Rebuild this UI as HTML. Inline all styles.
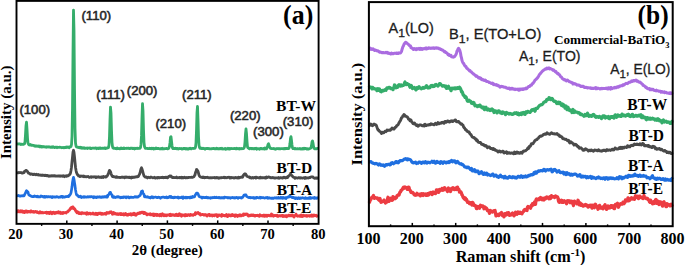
<!DOCTYPE html>
<html><head><meta charset="utf-8"><style>
html,body{margin:0;padding:0;background:#fff;width:685px;height:265px;overflow:hidden;}
svg{display:block;}

</style></head><body><svg width="685" height="265" viewBox="0 0 685 265"><path d="M17.5,211.82 L18.0,210.64 L18.5,211.17 L19.0,211.18 L19.5,211.76 L20.0,210.95 L20.5,211.65 L21.0,210.89 L21.5,211.76 L22.0,210.95 L22.5,211.16 L23.0,212.21 L23.5,211.53 L24.0,211.47 L24.5,212.46 L25.0,211.64 L25.5,211.15 L26.0,211.87 L26.5,211.04 L27.0,212.11 L27.5,212.18 L28.0,211.41 L28.5,211.41 L29.0,211.80 L29.5,211.76 L30.0,211.34 L30.5,212.06 L31.0,210.91 L31.5,211.67 L32.0,211.71 L32.5,211.79 L33.0,212.08 L33.5,211.41 L34.0,212.26 L34.5,211.94 L35.0,211.75 L35.5,211.45 L36.0,211.56 L36.5,212.28 L37.0,211.70 L37.5,212.19 L38.0,212.66 L38.5,212.67 L39.0,212.93 L39.5,212.11 L40.0,211.78 L40.5,212.75 L41.0,212.45 L41.5,212.84 L42.0,212.35 L42.5,212.91 L43.0,212.77 L43.5,212.73 L44.0,212.65 L44.5,212.62 L45.0,212.57 L45.5,212.58 L46.0,212.94 L46.5,212.28 L47.0,213.31 L47.5,212.50 L48.0,213.01 L48.5,212.54 L49.0,212.48 L49.5,213.52 L50.0,212.48 L50.5,212.06 L51.0,212.33 L51.5,212.52 L52.0,213.65 L52.5,212.78 L53.0,213.12 L53.5,212.27 L54.0,212.89 L54.5,213.04 L55.0,213.56 L55.5,212.45 L56.0,213.04 L56.5,212.91 L57.0,212.33 L57.5,212.79 L58.0,212.68 L58.5,211.76 L59.0,213.08 L59.5,213.06 L60.0,212.62 L60.5,212.22 L61.0,213.48 L61.5,212.93 L62.0,213.26 L62.5,213.43 L63.0,212.55 L63.5,213.13 L64.0,212.63 L64.5,212.67 L65.0,212.61 L65.5,212.57 L66.0,212.97 L66.5,212.38 L67.0,212.06 L67.5,211.75 L68.0,211.69 L68.5,210.72 L69.0,210.38 L69.5,209.99 L70.0,209.10 L70.5,208.60 L71.0,207.70 L71.5,208.29 L72.0,207.58 L72.5,207.05 L73.0,206.98 L73.5,208.42 L74.0,208.20 L74.5,208.72 L75.0,209.62 L75.5,210.31 L76.0,211.43 L76.5,211.32 L77.0,212.72 L77.5,211.74 L78.0,212.74 L78.5,212.20 L79.0,213.63 L79.5,212.80 L80.0,213.02 L80.5,213.54 L81.0,213.75 L81.5,212.74 L82.0,213.13 L82.5,212.70 L83.0,213.42 L83.5,213.35 L84.0,213.27 L84.5,213.14 L85.0,213.30 L85.5,213.16 L86.0,213.76 L86.5,214.23 L87.0,212.70 L87.5,213.53 L88.0,213.41 L88.5,213.84 L89.0,213.21 L89.5,213.59 L90.0,213.20 L90.5,214.00 L91.0,213.74 L91.5,213.64 L92.0,213.89 L92.5,213.63 L93.0,213.05 L93.5,214.03 L94.0,213.90 L94.5,213.72 L95.0,214.24 L95.5,214.35 L96.0,213.32 L96.5,213.47 L97.0,214.53 L97.5,214.48 L98.0,213.52 L98.5,213.32 L99.0,213.57 L99.5,213.64 L100.0,213.16 L100.5,213.89 L101.0,213.30 L101.5,213.33 L102.0,214.28 L102.5,213.55 L103.0,213.81 L103.5,214.10 L104.0,214.14 L104.5,213.57 L105.0,213.67 L105.5,213.18 L106.0,214.21 L106.5,213.57 L107.0,212.60 L107.5,212.90 L108.0,213.01 L108.5,212.70 L109.0,213.14 L109.5,212.81 L110.0,211.91 L110.5,212.17 L111.0,211.77 L111.5,212.66 L112.0,212.83 L112.5,214.21 L113.0,213.26 L113.5,212.47 L114.0,213.28 L114.5,213.77 L115.0,213.27 L115.5,213.54 L116.0,213.84 L116.5,214.21 L117.0,214.03 L117.5,213.74 L118.0,214.52 L118.5,213.95 L119.0,213.99 L119.5,213.61 L120.0,213.89 L120.5,214.55 L121.0,213.55 L121.5,214.26 L122.0,214.62 L122.5,214.14 L123.0,214.43 L123.5,213.83 L124.0,214.93 L124.5,214.85 L125.0,214.47 L125.5,213.58 L126.0,213.91 L126.5,214.82 L127.0,215.16 L127.5,214.53 L128.0,214.96 L128.5,214.13 L129.0,214.33 L129.5,214.42 L130.0,214.61 L130.5,213.73 L131.0,214.84 L131.5,215.02 L132.0,213.90 L132.5,213.80 L133.0,214.57 L133.5,214.10 L134.0,213.32 L134.5,214.73 L135.0,214.40 L135.5,214.08 L136.0,215.18 L136.5,214.21 L137.0,213.70 L137.5,213.94 L138.0,213.25 L138.5,213.16 L139.0,213.42 L139.5,212.71 L140.0,212.46 L140.5,213.12 L141.0,212.50 L141.5,212.30 L142.0,212.12 L142.5,212.17 L143.0,212.80 L143.5,212.40 L144.0,213.55 L144.5,212.60 L145.0,213.21 L145.5,212.97 L146.0,213.67 L146.5,214.25 L147.0,214.83 L147.5,214.00 L148.0,214.40 L148.5,214.31 L149.0,214.19 L149.5,214.03 L150.0,214.63 L150.5,213.85 L151.0,214.70 L151.5,214.68 L152.0,214.40 L152.5,214.25 L153.0,214.10 L153.5,215.58 L154.0,214.14 L154.5,215.46 L155.0,215.04 L155.5,214.62 L156.0,214.27 L156.5,215.27 L157.0,215.59 L157.5,214.40 L158.0,214.69 L158.5,215.31 L159.0,214.99 L159.5,215.75 L160.0,214.60 L160.5,215.11 L161.0,214.31 L161.5,215.82 L162.0,214.55 L162.5,213.90 L163.0,214.84 L163.5,214.84 L164.0,215.77 L164.5,214.76 L165.0,214.92 L165.5,215.19 L166.0,215.65 L166.5,214.91 L167.0,215.41 L167.5,215.18 L168.0,214.82 L168.5,215.00 L169.0,214.98 L169.5,214.56 L170.0,215.52 L170.5,214.36 L171.0,215.51 L171.5,215.42 L172.0,214.96 L172.5,214.66 L173.0,214.90 L173.5,215.22 L174.0,215.35 L174.5,215.15 L175.0,215.47 L175.5,214.78 L176.0,215.14 L176.5,214.33 L177.0,215.39 L177.5,215.12 L178.0,214.86 L178.5,215.58 L179.0,215.37 L179.5,213.79 L180.0,215.08 L180.5,214.41 L181.0,215.55 L181.5,216.19 L182.0,214.84 L182.5,215.11 L183.0,214.97 L183.5,215.24 L184.0,215.37 L184.5,215.66 L185.0,214.64 L185.5,215.79 L186.0,214.66 L186.5,215.21 L187.0,215.60 L187.5,215.40 L188.0,214.65 L188.5,214.75 L189.0,214.84 L189.5,215.01 L190.0,215.53 L190.5,214.40 L191.0,215.15 L191.5,215.15 L192.0,215.05 L192.5,214.90 L193.0,215.25 L193.5,214.63 L194.0,214.61 L194.5,214.28 L195.0,214.61 L195.5,212.74 L196.0,213.99 L196.5,213.18 L197.0,213.13 L197.5,212.87 L198.0,212.59 L198.5,213.45 L199.0,213.53 L199.5,214.29 L200.0,213.61 L200.5,215.11 L201.0,214.76 L201.5,214.66 L202.0,214.56 L202.5,214.62 L203.0,214.53 L203.5,214.85 L204.0,215.13 L204.5,215.08 L205.0,214.55 L205.5,215.09 L206.0,214.82 L206.5,215.31 L207.0,216.09 L207.5,215.54 L208.0,215.13 L208.5,214.55 L209.0,214.65 L209.5,214.54 L210.0,215.63 L210.5,214.97 L211.0,215.35 L211.5,215.04 L212.0,215.37 L212.5,215.97 L213.0,215.03 L213.5,215.19 L214.0,214.99 L214.5,215.75 L215.0,214.90 L215.5,214.86 L216.0,214.75 L216.5,214.74 L217.0,215.59 L217.5,216.54 L218.0,214.94 L218.5,215.82 L219.0,215.51 L219.5,214.91 L220.0,215.28 L220.5,215.30 L221.0,215.10 L221.5,216.29 L222.0,214.56 L222.5,215.60 L223.0,215.58 L223.5,215.17 L224.0,215.50 L224.5,215.83 L225.0,215.51 L225.5,215.63 L226.0,215.76 L226.5,214.53 L227.0,216.12 L227.5,216.48 L228.0,215.90 L228.5,215.91 L229.0,214.83 L229.5,215.41 L230.0,215.10 L230.5,215.20 L231.0,215.90 L231.5,215.11 L232.0,215.41 L232.5,214.61 L233.0,215.40 L233.5,215.51 L234.0,215.15 L234.5,215.15 L235.0,216.32 L235.5,214.92 L236.0,214.99 L236.5,215.09 L237.0,215.99 L237.5,216.39 L238.0,215.58 L238.5,215.09 L239.0,215.19 L239.5,215.83 L240.0,214.89 L240.5,215.89 L241.0,215.80 L241.5,215.10 L242.0,215.25 L242.5,215.17 L243.0,215.40 L243.5,214.11 L244.0,215.00 L244.5,214.23 L245.0,214.03 L245.5,214.45 L246.0,214.38 L246.5,214.15 L247.0,214.01 L247.5,214.43 L248.0,215.64 L248.5,215.98 L249.0,215.49 L249.5,215.82 L250.0,215.12 L250.5,215.37 L251.0,215.57 L251.5,214.99 L252.0,215.05 L252.5,215.56 L253.0,215.38 L253.5,215.06 L254.0,215.72 L254.5,215.44 L255.0,216.03 L255.5,215.57 L256.0,215.44 L256.5,215.64 L257.0,215.51 L257.5,215.29 L258.0,215.42 L258.5,215.94 L259.0,215.90 L259.5,216.19 L260.0,214.85 L260.5,215.44 L261.0,215.43 L261.5,215.70 L262.0,215.42 L262.5,215.40 L263.0,215.99 L263.5,215.72 L264.0,215.11 L264.5,216.24 L265.0,216.09 L265.5,215.39 L266.0,216.02 L266.5,215.32 L267.0,216.16 L267.5,215.56 L268.0,215.30 L268.5,215.49 L269.0,215.32 L269.5,215.75 L270.0,215.75 L270.5,215.69 L271.0,215.42 L271.5,214.03 L272.0,215.72 L272.5,214.83 L273.0,215.79 L273.5,216.19 L274.0,215.81 L274.5,215.51 L275.0,215.61 L275.5,215.63 L276.0,215.45 L276.5,215.43 L277.0,215.28 L277.5,216.23 L278.0,215.69 L278.5,216.13 L279.0,215.59 L279.5,215.74 L280.0,215.63 L280.5,215.92 L281.0,216.08 L281.5,215.82 L282.0,215.41 L282.5,215.37 L283.0,216.47 L283.5,215.59 L284.0,215.59 L284.5,216.38 L285.0,216.21 L285.5,215.97 L286.0,215.55 L286.5,216.79 L287.0,215.91 L287.5,215.98 L288.0,215.66 L288.5,215.10 L289.0,215.14 L289.5,215.92 L290.0,215.92 L290.5,215.63 L291.0,215.22 L291.5,215.10 L292.0,215.60 L292.5,215.09 L293.0,216.15 L293.5,216.27 L294.0,217.03 L294.5,216.15 L295.0,215.49 L295.5,215.36 L296.0,214.20 L296.5,215.49 L297.0,215.68 L297.5,216.20 L298.0,216.04 L298.5,216.03 L299.0,215.86 L299.5,216.06 L300.0,216.42 L300.5,215.29 L301.0,215.56 L301.5,215.15 L302.0,216.50 L302.5,216.36 L303.0,216.11 L303.5,215.24 L304.0,215.85 L304.5,215.67 L305.0,215.81 L305.5,215.69 L306.0,216.01 L306.5,215.60 L307.0,216.17 L307.5,215.89 L308.0,215.65 L308.5,215.73 L309.0,215.59 L309.5,216.15 L310.0,215.67 L310.5,215.92 L311.0,215.61 L311.5,215.12 L312.0,216.20 L312.5,215.32 L313.0,216.10 L313.5,215.98 L314.0,215.05 L314.5,215.37 L315.0,215.56 L315.5,215.43 L316.0,215.26 L316.5,216.13 L317.0,215.69 L317.5,215.97" fill="none" stroke="#ec3c42" stroke-width="2.9" stroke-linejoin="round" stroke-linecap="round"/><path d="M17.5,195.76 L18.0,195.82 L18.5,195.41 L19.0,195.67 L19.5,195.93 L20.0,196.21 L20.5,196.23 L21.0,195.90 L21.5,195.85 L22.0,195.64 L22.5,195.97 L23.0,195.70 L23.5,195.82 L24.0,195.92 L24.5,194.95 L25.0,193.80 L25.5,193.00 L26.0,191.64 L26.5,190.71 L27.0,191.18 L27.5,191.52 L28.0,192.16 L28.5,193.97 L29.0,195.07 L29.5,195.21 L30.0,195.49 L30.5,195.81 L31.0,196.13 L31.5,196.32 L32.0,196.55 L32.5,196.61 L33.0,196.64 L33.5,196.73 L34.0,196.55 L34.5,195.92 L35.0,196.36 L35.5,196.52 L36.0,196.33 L36.5,196.74 L37.0,196.38 L37.5,196.23 L38.0,196.96 L38.5,196.74 L39.0,196.62 L39.5,196.85 L40.0,196.90 L40.5,196.70 L41.0,195.88 L41.5,196.43 L42.0,196.50 L42.5,196.36 L43.0,196.73 L43.5,197.04 L44.0,196.54 L44.5,196.36 L45.0,197.32 L45.5,196.59 L46.0,196.36 L46.5,196.82 L47.0,196.88 L47.5,196.55 L48.0,197.01 L48.5,196.64 L49.0,196.51 L49.5,196.85 L50.0,197.04 L50.5,196.62 L51.0,196.92 L51.5,196.80 L52.0,197.68 L52.5,196.63 L53.0,197.26 L53.5,196.83 L54.0,196.82 L54.5,197.07 L55.0,197.13 L55.5,197.24 L56.0,196.97 L56.5,196.69 L57.0,196.71 L57.5,197.02 L58.0,197.04 L58.5,197.29 L59.0,196.99 L59.5,197.18 L60.0,197.31 L60.5,196.90 L61.0,196.40 L61.5,196.48 L62.0,196.39 L62.5,197.29 L63.0,196.54 L63.5,197.14 L64.0,196.93 L64.5,197.24 L65.0,197.00 L65.5,196.63 L66.0,196.55 L66.5,196.58 L67.0,196.54 L67.5,196.24 L68.0,196.28 L68.5,196.62 L69.0,195.41 L69.5,195.67 L70.0,194.75 L70.5,194.11 L71.0,192.70 L71.5,189.95 L72.0,186.82 L72.5,182.16 L73.0,179.42 L73.5,177.41 L74.0,179.28 L74.5,182.70 L75.0,185.83 L75.5,189.77 L76.0,192.54 L76.5,194.56 L77.0,195.15 L77.5,195.71 L78.0,195.55 L78.5,196.63 L79.0,196.90 L79.5,196.48 L80.0,196.50 L80.5,196.15 L81.0,196.97 L81.5,197.56 L82.0,197.01 L82.5,197.21 L83.0,197.03 L83.5,196.60 L84.0,197.32 L84.5,196.57 L85.0,196.90 L85.5,197.06 L86.0,197.26 L86.5,197.13 L87.0,197.13 L87.5,196.80 L88.0,196.65 L88.5,197.07 L89.0,196.84 L89.5,196.67 L90.0,196.69 L90.5,196.93 L91.0,196.53 L91.5,196.69 L92.0,196.60 L92.5,197.15 L93.0,197.23 L93.5,197.71 L94.0,196.66 L94.5,196.91 L95.0,197.39 L95.5,197.06 L96.0,197.03 L96.5,197.64 L97.0,197.03 L97.5,196.78 L98.0,196.73 L98.5,197.23 L99.0,197.22 L99.5,196.72 L100.0,196.83 L100.5,197.28 L101.0,197.29 L101.5,196.92 L102.0,197.29 L102.5,197.27 L103.0,196.55 L103.5,196.98 L104.0,197.18 L104.5,196.86 L105.0,196.36 L105.5,196.87 L106.0,197.11 L106.5,197.24 L107.0,195.90 L107.5,196.98 L108.0,195.25 L108.5,195.01 L109.0,194.03 L109.5,192.96 L110.0,192.27 L110.5,192.32 L111.0,193.85 L111.5,194.52 L112.0,194.85 L112.5,197.06 L113.0,196.80 L113.5,197.34 L114.0,196.64 L114.5,197.43 L115.0,197.52 L115.5,197.54 L116.0,197.10 L116.5,196.76 L117.0,197.09 L117.5,196.50 L118.0,196.66 L118.5,197.21 L119.0,196.89 L119.5,197.15 L120.0,197.17 L120.5,197.79 L121.0,197.61 L121.5,197.21 L122.0,197.59 L122.5,197.00 L123.0,197.13 L123.5,197.51 L124.0,196.87 L124.5,197.16 L125.0,196.85 L125.5,197.28 L126.0,197.74 L126.5,197.02 L127.0,197.32 L127.5,196.98 L128.0,196.91 L128.5,196.88 L129.0,197.69 L129.5,197.96 L130.0,197.39 L130.5,197.03 L131.0,197.45 L131.5,197.14 L132.0,197.48 L132.5,197.32 L133.0,197.31 L133.5,197.40 L134.0,197.03 L134.5,197.07 L135.0,196.66 L135.5,197.03 L136.0,196.71 L136.5,197.06 L137.0,196.77 L137.5,197.03 L138.0,197.05 L138.5,196.33 L139.0,196.24 L139.5,195.72 L140.0,195.45 L140.5,194.61 L141.0,192.96 L141.5,191.31 L142.0,191.29 L142.5,190.96 L143.0,193.17 L143.5,193.91 L144.0,194.41 L144.5,196.82 L145.0,196.98 L145.5,196.48 L146.0,196.99 L146.5,196.97 L147.0,197.13 L147.5,196.70 L148.0,196.98 L148.5,197.35 L149.0,197.31 L149.5,197.62 L150.0,197.30 L150.5,197.99 L151.0,197.09 L151.5,197.39 L152.0,196.75 L152.5,196.96 L153.0,197.74 L153.5,197.06 L154.0,197.51 L154.5,197.34 L155.0,197.05 L155.5,197.26 L156.0,197.22 L156.5,197.23 L157.0,197.61 L157.5,197.58 L158.0,197.22 L158.5,197.12 L159.0,197.48 L159.5,197.37 L160.0,197.71 L160.5,198.20 L161.0,197.66 L161.5,197.40 L162.0,197.36 L162.5,197.15 L163.0,197.14 L163.5,197.11 L164.0,197.29 L164.5,197.28 L165.0,197.62 L165.5,197.28 L166.0,197.32 L166.5,197.00 L167.0,197.82 L167.5,197.40 L168.0,197.67 L168.5,197.20 L169.0,197.20 L169.5,196.48 L170.0,196.68 L170.5,197.37 L171.0,196.39 L171.5,197.33 L172.0,197.66 L172.5,197.40 L173.0,197.58 L173.5,197.78 L174.0,197.22 L174.5,197.56 L175.0,197.18 L175.5,197.25 L176.0,197.28 L176.5,197.43 L177.0,197.52 L177.5,197.62 L178.0,197.05 L178.5,198.10 L179.0,197.85 L179.5,197.72 L180.0,197.39 L180.5,197.47 L181.0,197.67 L181.5,197.63 L182.0,196.99 L182.5,197.73 L183.0,198.40 L183.5,196.94 L184.0,197.81 L184.5,197.62 L185.0,197.47 L185.5,197.93 L186.0,197.14 L186.5,197.55 L187.0,197.95 L187.5,197.43 L188.0,197.36 L188.5,197.52 L189.0,197.34 L189.5,197.94 L190.0,197.17 L190.5,197.70 L191.0,197.03 L191.5,197.59 L192.0,197.32 L192.5,196.50 L193.0,197.21 L193.5,196.74 L194.0,196.69 L194.5,196.88 L195.0,195.43 L195.5,194.58 L196.0,194.34 L196.5,193.03 L197.0,193.08 L197.5,193.10 L198.0,193.64 L198.5,194.91 L199.0,196.18 L199.5,196.72 L200.0,196.85 L200.5,197.12 L201.0,197.22 L201.5,197.16 L202.0,197.99 L202.5,197.44 L203.0,197.12 L203.5,197.35 L204.0,197.74 L204.5,197.73 L205.0,197.51 L205.5,197.36 L206.0,197.58 L206.5,197.07 L207.0,197.19 L207.5,197.85 L208.0,197.46 L208.5,197.73 L209.0,198.00 L209.5,197.83 L210.0,197.64 L210.5,198.29 L211.0,197.85 L211.5,197.54 L212.0,197.88 L212.5,197.78 L213.0,197.40 L213.5,197.69 L214.0,197.62 L214.5,197.06 L215.0,197.62 L215.5,197.59 L216.0,197.54 L216.5,197.18 L217.0,197.58 L217.5,197.68 L218.0,197.72 L218.5,197.34 L219.0,197.89 L219.5,197.33 L220.0,197.63 L220.5,198.11 L221.0,197.49 L221.5,197.55 L222.0,198.04 L222.5,197.60 L223.0,197.63 L223.5,197.79 L224.0,198.05 L224.5,197.05 L225.0,197.47 L225.5,197.42 L226.0,197.40 L226.5,197.47 L227.0,197.48 L227.5,197.83 L228.0,197.46 L228.5,197.78 L229.0,197.86 L229.5,197.52 L230.0,197.78 L230.5,198.25 L231.0,197.85 L231.5,197.55 L232.0,197.73 L232.5,197.47 L233.0,197.83 L233.5,198.01 L234.0,197.50 L234.5,197.68 L235.0,198.09 L235.5,197.59 L236.0,197.80 L236.5,197.42 L237.0,197.48 L237.5,197.57 L238.0,198.37 L238.5,197.58 L239.0,197.53 L239.5,197.50 L240.0,197.60 L240.5,197.80 L241.0,197.60 L241.5,198.05 L242.0,197.31 L242.5,197.40 L243.0,196.66 L243.5,196.25 L244.0,195.07 L244.5,194.99 L245.0,194.82 L245.5,194.96 L246.0,194.87 L246.5,196.34 L247.0,196.48 L247.5,196.86 L248.0,197.20 L248.5,197.39 L249.0,197.70 L249.5,197.27 L250.0,197.41 L250.5,197.81 L251.0,197.79 L251.5,197.66 L252.0,197.61 L252.5,197.55 L253.0,197.79 L253.5,198.17 L254.0,197.51 L254.5,198.29 L255.0,198.10 L255.5,197.71 L256.0,198.09 L256.5,197.42 L257.0,197.35 L257.5,197.48 L258.0,197.75 L258.5,197.78 L259.0,197.73 L259.5,197.92 L260.0,197.25 L260.5,198.04 L261.0,197.47 L261.5,197.70 L262.0,197.78 L262.5,197.56 L263.0,197.50 L263.5,197.61 L264.0,197.91 L264.5,198.10 L265.0,198.09 L265.5,197.63 L266.0,197.69 L266.5,197.65 L267.0,198.07 L267.5,197.32 L268.0,198.31 L268.5,197.80 L269.0,197.71 L269.5,198.05 L270.0,198.26 L270.5,198.05 L271.0,198.27 L271.5,198.00 L272.0,198.33 L272.5,198.33 L273.0,197.93 L273.5,198.40 L274.0,198.02 L274.5,197.99 L275.0,197.69 L275.5,197.88 L276.0,198.21 L276.5,197.58 L277.0,198.17 L277.5,198.08 L278.0,198.06 L278.5,197.32 L279.0,197.95 L279.5,198.17 L280.0,197.75 L280.5,198.01 L281.0,197.26 L281.5,198.18 L282.0,197.77 L282.5,198.23 L283.0,197.41 L283.5,198.17 L284.0,197.88 L284.5,198.18 L285.0,197.64 L285.5,197.71 L286.0,198.52 L286.5,197.53 L287.0,197.45 L287.5,197.39 L288.0,196.90 L288.5,197.23 L289.0,197.02 L289.5,195.98 L290.0,195.54 L290.5,196.54 L291.0,196.85 L291.5,197.14 L292.0,197.58 L292.5,197.24 L293.0,197.64 L293.5,197.40 L294.0,197.47 L294.5,198.23 L295.0,197.77 L295.5,198.68 L296.0,198.03 L296.5,197.83 L297.0,198.28 L297.5,198.59 L298.0,198.20 L298.5,197.70 L299.0,198.18 L299.5,198.49 L300.0,197.93 L300.5,197.85 L301.0,198.40 L301.5,198.14 L302.0,197.77 L302.5,197.99 L303.0,197.88 L303.5,198.20 L304.0,198.15 L304.5,198.46 L305.0,198.33 L305.5,197.66 L306.0,198.25 L306.5,198.40 L307.0,198.27 L307.5,198.45 L308.0,197.98 L308.5,197.86 L309.0,198.43 L309.5,197.83 L310.0,197.50 L310.5,198.46 L311.0,197.94 L311.5,198.07 L312.0,197.74 L312.5,197.77 L313.0,197.82 L313.5,198.06 L314.0,198.29 L314.5,197.49 L315.0,198.41 L315.5,197.83 L316.0,197.87 L316.5,198.39 L317.0,198.17 L317.5,197.73" fill="none" stroke="#1f6fe0" stroke-width="2.7" stroke-linejoin="round" stroke-linecap="round"/><path d="M17.5,172.78 L18.0,172.67 L18.5,172.81 L19.0,172.35 L19.5,172.72 L20.0,172.71 L20.5,172.68 L21.0,172.36 L21.5,172.87 L22.0,173.19 L22.5,173.05 L23.0,172.75 L23.5,172.76 L24.0,172.69 L24.5,171.37 L25.0,171.40 L25.5,170.86 L26.0,170.36 L26.5,170.60 L27.0,171.02 L27.5,171.61 L28.0,172.37 L28.5,173.07 L29.0,173.15 L29.5,173.53 L30.0,173.93 L30.5,174.31 L31.0,173.88 L31.5,173.99 L32.0,174.12 L32.5,174.48 L33.0,174.20 L33.5,174.64 L34.0,174.10 L34.5,174.35 L35.0,174.41 L35.5,174.72 L36.0,174.84 L36.5,174.26 L37.0,174.47 L37.5,174.83 L38.0,174.64 L38.5,174.48 L39.0,175.17 L39.5,175.09 L40.0,175.14 L40.5,174.95 L41.0,175.37 L41.5,175.10 L42.0,175.48 L42.5,175.02 L43.0,175.08 L43.5,175.38 L44.0,175.20 L44.5,175.58 L45.0,175.51 L45.5,175.25 L46.0,175.53 L46.5,175.45 L47.0,175.80 L47.5,175.45 L48.0,175.53 L48.5,175.97 L49.0,176.26 L49.5,176.22 L50.0,175.77 L50.5,175.83 L51.0,176.19 L51.5,175.80 L52.0,175.61 L52.5,175.91 L53.0,176.02 L53.5,175.72 L54.0,175.54 L54.5,175.61 L55.0,176.15 L55.5,175.82 L56.0,175.99 L56.5,176.09 L57.0,176.21 L57.5,175.98 L58.0,176.20 L58.5,175.87 L59.0,176.01 L59.5,175.85 L60.0,176.39 L60.5,176.10 L61.0,175.93 L61.5,176.02 L62.0,176.05 L62.5,176.27 L63.0,175.69 L63.5,175.82 L64.0,175.96 L64.5,176.66 L65.0,176.24 L65.5,175.93 L66.0,176.08 L66.5,176.35 L67.0,175.70 L67.5,175.55 L68.0,175.81 L68.5,175.43 L69.0,175.20 L69.5,174.46 L70.0,174.31 L70.5,172.95 L71.0,170.48 L71.5,167.15 L72.0,161.89 L72.5,157.19 L73.0,152.18 L73.5,150.30 L74.0,152.42 L74.5,157.00 L75.0,162.05 L75.5,167.18 L76.0,170.28 L76.5,172.59 L77.0,173.86 L77.5,174.70 L78.0,174.68 L78.5,175.87 L79.0,175.85 L79.5,176.23 L80.0,176.58 L80.5,176.20 L81.0,175.84 L81.5,176.14 L82.0,176.13 L82.5,176.37 L83.0,176.56 L83.5,176.09 L84.0,176.71 L84.5,176.28 L85.0,176.77 L85.5,176.70 L86.0,176.67 L86.5,176.76 L87.0,176.66 L87.5,176.67 L88.0,176.42 L88.5,176.85 L89.0,177.34 L89.5,177.39 L90.0,177.24 L90.5,177.10 L91.0,176.77 L91.5,177.31 L92.0,176.95 L92.5,176.95 L93.0,176.91 L93.5,177.02 L94.0,176.89 L94.5,176.99 L95.0,176.75 L95.5,176.93 L96.0,177.61 L96.5,177.02 L97.0,176.99 L97.5,177.19 L98.0,177.23 L98.5,176.78 L99.0,177.01 L99.5,177.30 L100.0,177.13 L100.5,177.10 L101.0,177.45 L101.5,176.89 L102.0,177.07 L102.5,176.91 L103.0,177.40 L103.5,176.53 L104.0,176.82 L104.5,176.82 L105.0,177.08 L105.5,176.99 L106.0,177.07 L106.5,176.11 L107.0,176.32 L107.5,175.41 L108.0,174.33 L108.5,173.32 L109.0,171.57 L109.5,170.35 L110.0,170.90 L110.5,171.71 L111.0,173.34 L111.5,174.85 L112.0,175.77 L112.5,176.68 L113.0,176.59 L113.5,176.45 L114.0,176.76 L114.5,176.80 L115.0,176.78 L115.5,177.24 L116.0,177.00 L116.5,176.69 L117.0,177.39 L117.5,177.20 L118.0,177.34 L118.5,177.29 L119.0,177.44 L119.5,177.30 L120.0,177.61 L120.5,177.42 L121.0,177.42 L121.5,177.43 L122.0,176.97 L122.5,177.30 L123.0,177.28 L123.5,177.40 L124.0,177.02 L124.5,177.77 L125.0,177.39 L125.5,177.07 L126.0,176.95 L126.5,177.31 L127.0,177.36 L127.5,177.20 L128.0,177.40 L128.5,177.22 L129.0,177.52 L129.5,177.20 L130.0,177.37 L130.5,177.62 L131.0,178.02 L131.5,177.12 L132.0,177.24 L132.5,177.14 L133.0,177.54 L133.5,177.04 L134.0,177.19 L134.5,177.28 L135.0,177.02 L135.5,176.99 L136.0,177.06 L136.5,176.59 L137.0,176.67 L137.5,176.79 L138.0,176.71 L138.5,176.23 L139.0,175.13 L139.5,174.32 L140.0,172.98 L140.5,170.90 L141.0,168.85 L141.5,167.82 L142.0,169.03 L142.5,170.62 L143.0,172.51 L143.5,174.26 L144.0,175.97 L144.5,176.37 L145.0,177.00 L145.5,176.82 L146.0,177.31 L146.5,177.02 L147.0,177.20 L147.5,177.91 L148.0,177.52 L148.5,177.24 L149.0,177.37 L149.5,177.50 L150.0,177.74 L150.5,177.33 L151.0,177.03 L151.5,177.41 L152.0,177.49 L152.5,177.53 L153.0,177.84 L153.5,177.59 L154.0,177.72 L154.5,177.25 L155.0,177.75 L155.5,178.06 L156.0,177.74 L156.5,177.61 L157.0,177.59 L157.5,178.00 L158.0,177.32 L158.5,177.53 L159.0,177.68 L159.5,177.75 L160.0,177.45 L160.5,177.64 L161.0,177.49 L161.5,177.59 L162.0,177.53 L162.5,177.28 L163.0,177.55 L163.5,177.77 L164.0,177.31 L164.5,177.48 L165.0,177.70 L165.5,177.25 L166.0,177.54 L166.5,177.18 L167.0,177.66 L167.5,177.82 L168.0,177.53 L168.5,176.66 L169.0,176.52 L169.5,176.01 L170.0,175.84 L170.5,176.36 L171.0,176.01 L171.5,176.99 L172.0,177.02 L172.5,177.61 L173.0,177.43 L173.5,177.30 L174.0,177.58 L174.5,177.72 L175.0,177.56 L175.5,177.69 L176.0,177.44 L176.5,177.05 L177.0,177.81 L177.5,177.77 L178.0,177.63 L178.5,177.61 L179.0,177.86 L179.5,177.49 L180.0,177.43 L180.5,177.56 L181.0,177.90 L181.5,177.26 L182.0,177.90 L182.5,177.44 L183.0,177.32 L183.5,177.91 L184.0,177.57 L184.5,177.26 L185.0,177.50 L185.5,177.81 L186.0,177.87 L186.5,177.46 L187.0,177.66 L187.5,177.73 L188.0,177.38 L188.5,177.61 L189.0,177.50 L189.5,177.35 L190.0,177.33 L190.5,177.44 L191.0,177.39 L191.5,177.19 L192.0,177.16 L192.5,177.44 L193.0,177.05 L193.5,176.95 L194.0,176.55 L194.5,175.63 L195.0,174.89 L195.5,172.57 L196.0,171.25 L196.5,169.54 L197.0,169.68 L197.5,170.53 L198.0,171.25 L198.5,173.20 L199.0,175.01 L199.5,176.04 L200.0,176.67 L200.5,176.85 L201.0,177.20 L201.5,177.38 L202.0,177.29 L202.5,177.63 L203.0,176.86 L203.5,177.62 L204.0,177.23 L204.5,177.76 L205.0,177.48 L205.5,177.34 L206.0,177.67 L206.5,177.36 L207.0,177.37 L207.5,177.22 L208.0,177.61 L208.5,177.75 L209.0,177.89 L209.5,177.60 L210.0,177.90 L210.5,177.65 L211.0,177.63 L211.5,177.80 L212.0,177.93 L212.5,177.58 L213.0,177.61 L213.5,177.63 L214.0,177.69 L214.5,177.45 L215.0,177.94 L215.5,177.58 L216.0,177.80 L216.5,177.48 L217.0,177.78 L217.5,177.79 L218.0,177.59 L218.5,178.20 L219.0,177.79 L219.5,178.14 L220.0,177.94 L220.5,177.53 L221.0,177.60 L221.5,177.81 L222.0,177.72 L222.5,177.71 L223.0,177.63 L223.5,177.25 L224.0,177.65 L224.5,177.15 L225.0,177.80 L225.5,177.52 L226.0,177.53 L226.5,177.65 L227.0,177.78 L227.5,177.35 L228.0,177.27 L228.5,177.44 L229.0,177.20 L229.5,177.47 L230.0,178.10 L230.5,177.44 L231.0,177.87 L231.5,177.36 L232.0,177.78 L232.5,177.62 L233.0,177.68 L233.5,177.84 L234.0,178.13 L234.5,177.74 L235.0,177.72 L235.5,177.44 L236.0,177.82 L236.5,177.61 L237.0,177.87 L237.5,177.64 L238.0,178.07 L238.5,177.12 L239.0,177.53 L239.5,177.79 L240.0,177.45 L240.5,177.28 L241.0,177.32 L241.5,176.89 L242.0,177.03 L242.5,177.23 L243.0,176.38 L243.5,175.14 L244.0,174.45 L244.5,173.93 L245.0,174.02 L245.5,173.83 L246.0,174.50 L246.5,175.64 L247.0,176.32 L247.5,176.54 L248.0,176.73 L248.5,176.87 L249.0,177.23 L249.5,176.94 L250.0,177.75 L250.5,177.44 L251.0,177.75 L251.5,178.12 L252.0,177.97 L252.5,177.40 L253.0,177.92 L253.5,178.00 L254.0,177.54 L254.5,177.49 L255.0,177.71 L255.5,177.35 L256.0,178.12 L256.5,177.16 L257.0,177.49 L257.5,177.70 L258.0,177.71 L258.5,177.81 L259.0,177.84 L259.5,177.73 L260.0,178.06 L260.5,177.25 L261.0,177.78 L261.5,177.60 L262.0,177.81 L262.5,177.83 L263.0,177.55 L263.5,177.61 L264.0,177.96 L264.5,177.82 L265.0,177.53 L265.5,178.14 L266.0,178.09 L266.5,176.97 L267.0,177.20 L267.5,177.56 L268.0,177.04 L268.5,176.99 L269.0,177.08 L269.5,177.22 L270.0,177.48 L270.5,177.51 L271.0,177.91 L271.5,177.67 L272.0,177.69 L272.5,177.51 L273.0,177.81 L273.5,177.61 L274.0,177.80 L274.5,178.11 L275.0,177.94 L275.5,177.98 L276.0,177.95 L276.5,177.88 L277.0,177.83 L277.5,177.79 L278.0,178.06 L278.5,177.60 L279.0,178.20 L279.5,177.88 L280.0,177.68 L280.5,177.74 L281.0,177.69 L281.5,177.90 L282.0,177.67 L282.5,178.13 L283.0,177.64 L283.5,177.26 L284.0,177.63 L284.5,177.29 L285.0,177.75 L285.5,177.99 L286.0,177.83 L286.5,177.23 L287.0,177.22 L287.5,177.59 L288.0,176.82 L288.5,176.18 L289.0,175.75 L289.5,175.35 L290.0,174.49 L290.5,174.04 L291.0,174.45 L291.5,175.20 L292.0,175.64 L292.5,176.19 L293.0,176.97 L293.5,177.07 L294.0,177.51 L294.5,177.69 L295.0,178.34 L295.5,177.60 L296.0,177.82 L296.5,177.84 L297.0,178.01 L297.5,178.19 L298.0,177.82 L298.5,177.75 L299.0,177.56 L299.5,177.75 L300.0,178.12 L300.5,178.01 L301.0,177.75 L301.5,177.92 L302.0,178.03 L302.5,178.15 L303.0,177.88 L303.5,177.97 L304.0,177.58 L304.5,177.75 L305.0,178.45 L305.5,177.49 L306.0,177.96 L306.5,178.09 L307.0,177.94 L307.5,177.82 L308.0,177.99 L308.5,177.98 L309.0,177.90 L309.5,177.34 L310.0,177.60 L310.5,177.16 L311.0,176.93 L311.5,176.82 L312.0,176.80 L312.5,177.00 L313.0,176.96 L313.5,177.64 L314.0,177.96 L314.5,178.14 L315.0,178.32 L315.5,178.00 L316.0,178.03 L316.5,178.31 L317.0,177.78 L317.5,178.19" fill="none" stroke="#4a4a4a" stroke-width="2.8" stroke-linejoin="round" stroke-linecap="round"/><path d="M17.5,143.97 L18.0,144.08 L18.5,143.97 L19.0,143.85 L19.5,144.00 L20.0,143.90 L20.5,144.19 L21.0,144.55 L21.5,144.12 L22.0,144.11 L22.5,144.41 L23.0,144.39 L23.5,144.33 L24.0,144.01 L24.5,143.80 L25.0,141.74 L25.5,134.71 L26.0,125.64 L26.5,122.08 L27.0,129.13 L27.5,138.02 L28.0,143.12 L28.5,144.20 L29.0,144.89 L29.5,144.99 L30.0,145.00 L30.5,144.50 L31.0,145.08 L31.5,145.28 L32.0,145.40 L32.5,145.07 L33.0,145.42 L33.5,145.37 L34.0,145.49 L34.5,146.04 L35.0,145.65 L35.5,145.92 L36.0,146.22 L36.5,145.93 L37.0,146.12 L37.5,146.24 L38.0,146.29 L38.5,146.03 L39.0,146.40 L39.5,146.77 L40.0,146.09 L40.5,146.73 L41.0,146.58 L41.5,146.42 L42.0,147.12 L42.5,146.84 L43.0,146.39 L43.5,146.74 L44.0,146.89 L44.5,146.73 L45.0,146.98 L45.5,146.82 L46.0,147.03 L46.5,147.26 L47.0,146.75 L47.5,147.00 L48.0,146.86 L48.5,147.03 L49.0,146.73 L49.5,146.90 L50.0,147.02 L50.5,147.32 L51.0,147.40 L51.5,146.80 L52.0,146.96 L52.5,147.34 L53.0,146.70 L53.5,147.10 L54.0,147.21 L54.5,147.57 L55.0,147.44 L55.5,147.20 L56.0,147.21 L56.5,147.26 L57.0,147.72 L57.5,147.24 L58.0,147.29 L58.5,147.47 L59.0,147.36 L59.5,147.36 L60.0,147.14 L60.5,147.43 L61.0,147.33 L61.5,147.74 L62.0,147.63 L62.5,147.46 L63.0,147.65 L63.5,147.40 L64.0,147.75 L64.5,147.49 L65.0,147.63 L65.5,147.16 L66.0,147.56 L66.5,147.03 L67.0,146.92 L67.5,147.33 L68.0,147.13 L68.5,147.34 L69.0,147.77 L69.5,146.88 L70.0,146.77 L70.5,146.74 L71.0,146.38 L71.5,144.68 L72.0,136.74 L72.5,108.34 L73.0,52.84 L73.5,10.16 L74.0,30.51 L74.5,88.28 L75.0,128.62 L75.5,143.10 L76.0,145.84 L76.5,146.97 L77.0,147.09 L77.5,147.29 L78.0,147.28 L78.5,147.53 L79.0,147.16 L79.5,147.46 L80.0,147.89 L80.5,147.33 L81.0,148.12 L81.5,147.51 L82.0,148.17 L82.5,147.80 L83.0,148.23 L83.5,148.10 L84.0,147.70 L84.5,148.42 L85.0,148.48 L85.5,148.12 L86.0,148.09 L86.5,148.13 L87.0,147.94 L87.5,148.47 L88.0,148.07 L88.5,148.20 L89.0,148.02 L89.5,148.07 L90.0,147.92 L90.5,148.56 L91.0,148.21 L91.5,148.49 L92.0,148.26 L92.5,148.09 L93.0,148.19 L93.5,148.13 L94.0,148.28 L94.5,148.19 L95.0,148.21 L95.5,147.94 L96.0,148.09 L96.5,148.71 L97.0,148.13 L97.5,148.04 L98.0,148.39 L98.5,148.66 L99.0,147.94 L99.5,148.26 L100.0,148.15 L100.5,147.87 L101.0,148.49 L101.5,148.30 L102.0,148.32 L102.5,148.11 L103.0,148.41 L103.5,148.16 L104.0,148.25 L104.5,147.99 L105.0,147.95 L105.5,148.57 L106.0,148.08 L106.5,148.24 L107.0,148.11 L107.5,147.93 L108.0,147.79 L108.5,147.61 L109.0,144.97 L109.5,136.36 L110.0,119.65 L110.5,107.15 L111.0,113.11 L111.5,130.48 L112.0,142.51 L112.5,146.58 L113.0,148.07 L113.5,148.28 L114.0,148.10 L114.5,148.33 L115.0,148.44 L115.5,148.49 L116.0,148.54 L116.5,148.22 L117.0,148.73 L117.5,148.06 L118.0,148.60 L118.5,148.52 L119.0,148.62 L119.5,148.88 L120.0,148.79 L120.5,148.14 L121.0,148.01 L121.5,148.64 L122.0,148.19 L122.5,148.44 L123.0,148.66 L123.5,148.04 L124.0,147.93 L124.5,148.53 L125.0,148.48 L125.5,148.41 L126.0,148.48 L126.5,148.26 L127.0,148.10 L127.5,148.43 L128.0,148.24 L128.5,148.07 L129.0,148.61 L129.5,148.47 L130.0,148.58 L130.5,148.24 L131.0,148.32 L131.5,148.23 L132.0,148.26 L132.5,148.53 L133.0,148.28 L133.5,148.56 L134.0,148.56 L134.5,148.97 L135.0,148.11 L135.5,148.67 L136.0,148.42 L136.5,148.42 L137.0,148.05 L137.5,148.27 L138.0,148.54 L138.5,148.29 L139.0,148.28 L139.5,148.11 L140.0,148.33 L140.5,147.54 L141.0,144.45 L141.5,135.66 L142.0,117.59 L142.5,103.72 L143.0,110.84 L143.5,129.78 L144.0,142.46 L144.5,146.68 L145.0,147.71 L145.5,148.44 L146.0,148.29 L146.5,148.33 L147.0,148.36 L147.5,148.42 L148.0,148.64 L148.5,148.60 L149.0,148.54 L149.5,148.24 L150.0,148.64 L150.5,148.35 L151.0,148.80 L151.5,148.22 L152.0,148.51 L152.5,148.55 L153.0,148.22 L153.5,148.99 L154.0,148.93 L154.5,148.45 L155.0,148.76 L155.5,148.67 L156.0,147.92 L156.5,148.64 L157.0,148.57 L157.5,148.61 L158.0,148.32 L158.5,148.52 L159.0,148.55 L159.5,148.89 L160.0,148.68 L160.5,148.59 L161.0,148.98 L161.5,148.46 L162.0,148.50 L162.5,148.14 L163.0,148.99 L163.5,148.84 L164.0,148.82 L164.5,148.76 L165.0,148.61 L165.5,148.64 L166.0,148.51 L166.5,148.51 L167.0,148.57 L167.5,148.91 L168.0,148.64 L168.5,148.41 L169.0,147.91 L169.5,146.25 L170.0,142.64 L170.5,137.39 L171.0,136.67 L171.5,141.07 L172.0,145.52 L172.5,147.86 L173.0,148.62 L173.5,148.41 L174.0,148.48 L174.5,148.51 L175.0,148.61 L175.5,148.19 L176.0,148.54 L176.5,148.40 L177.0,148.84 L177.5,148.43 L178.0,148.77 L178.5,149.01 L179.0,148.55 L179.5,148.48 L180.0,148.68 L180.5,148.63 L181.0,148.39 L181.5,148.75 L182.0,149.14 L182.5,148.57 L183.0,148.59 L183.5,148.38 L184.0,148.72 L184.5,148.33 L185.0,148.36 L185.5,148.96 L186.0,148.41 L186.5,148.90 L187.0,149.01 L187.5,148.69 L188.0,148.76 L188.5,149.11 L189.0,148.57 L189.5,148.46 L190.0,148.26 L190.5,148.60 L191.0,148.95 L191.5,148.80 L192.0,148.31 L192.5,148.30 L193.0,148.36 L193.5,148.51 L194.0,148.32 L194.5,148.34 L195.0,148.15 L195.5,147.08 L196.0,142.79 L196.5,130.35 L197.0,112.51 L197.5,106.47 L198.0,119.84 L198.5,136.60 L199.0,145.28 L199.5,147.30 L200.0,148.29 L200.5,147.85 L201.0,148.06 L201.5,148.68 L202.0,148.69 L202.5,148.51 L203.0,148.14 L203.5,148.50 L204.0,148.44 L204.5,148.78 L205.0,149.19 L205.5,148.69 L206.0,148.45 L206.5,148.36 L207.0,148.64 L207.5,148.62 L208.0,148.38 L208.5,148.70 L209.0,148.39 L209.5,148.96 L210.0,148.95 L210.5,148.96 L211.0,148.57 L211.5,148.82 L212.0,148.66 L212.5,148.60 L213.0,148.61 L213.5,148.37 L214.0,148.34 L214.5,148.90 L215.0,148.65 L215.5,148.76 L216.0,148.95 L216.5,148.27 L217.0,148.51 L217.5,148.75 L218.0,148.81 L218.5,148.62 L219.0,148.97 L219.5,148.76 L220.0,148.41 L220.5,148.48 L221.0,148.92 L221.5,148.83 L222.0,148.24 L222.5,149.05 L223.0,148.87 L223.5,149.05 L224.0,148.62 L224.5,148.65 L225.0,148.44 L225.5,149.35 L226.0,148.68 L226.5,149.12 L227.0,148.56 L227.5,148.76 L228.0,148.31 L228.5,148.63 L229.0,148.97 L229.5,148.41 L230.0,148.99 L230.5,148.81 L231.0,148.46 L231.5,148.60 L232.0,148.61 L232.5,148.71 L233.0,148.59 L233.5,148.52 L234.0,148.65 L234.5,148.47 L235.0,148.40 L235.5,148.71 L236.0,148.94 L236.5,148.34 L237.0,148.72 L237.5,148.55 L238.0,148.47 L238.5,148.92 L239.0,148.58 L239.5,149.07 L240.0,148.50 L240.5,148.78 L241.0,148.62 L241.5,148.47 L242.0,148.79 L242.5,148.57 L243.0,148.72 L243.5,148.49 L244.0,147.92 L244.5,146.65 L245.0,141.80 L245.5,133.85 L246.0,128.83 L246.5,133.60 L247.0,141.35 L247.5,146.84 L248.0,147.93 L248.5,148.05 L249.0,148.56 L249.5,148.90 L250.0,148.27 L250.5,148.40 L251.0,148.50 L251.5,148.41 L252.0,148.80 L252.5,148.51 L253.0,148.54 L253.5,148.87 L254.0,148.54 L254.5,148.84 L255.0,148.49 L255.5,148.44 L256.0,148.28 L256.5,149.21 L257.0,148.66 L257.5,148.81 L258.0,148.74 L258.5,148.79 L259.0,148.76 L259.5,149.23 L260.0,148.49 L260.5,148.36 L261.0,148.50 L261.5,148.42 L262.0,148.93 L262.5,148.95 L263.0,148.50 L263.5,148.39 L264.0,148.65 L264.5,149.08 L265.0,148.02 L265.5,148.85 L266.0,148.41 L266.5,148.79 L267.0,147.71 L267.5,146.59 L268.0,144.49 L268.5,143.73 L269.0,145.22 L269.5,146.87 L270.0,147.89 L270.5,148.32 L271.0,148.21 L271.5,148.62 L272.0,148.72 L272.5,148.72 L273.0,148.72 L273.5,148.47 L274.0,148.74 L274.5,148.75 L275.0,149.08 L275.5,149.23 L276.0,148.73 L276.5,148.57 L277.0,148.75 L277.5,148.62 L278.0,148.58 L278.5,148.75 L279.0,148.51 L279.5,148.92 L280.0,148.74 L280.5,148.83 L281.0,148.72 L281.5,148.59 L282.0,148.53 L282.5,148.71 L283.0,148.63 L283.5,148.82 L284.0,148.76 L284.5,148.41 L285.0,148.77 L285.5,148.41 L286.0,148.58 L286.5,148.65 L287.0,148.20 L287.5,148.72 L288.0,148.71 L288.5,148.57 L289.0,148.24 L289.5,147.02 L290.0,143.30 L290.5,138.41 L291.0,136.58 L291.5,140.45 L292.0,145.00 L292.5,147.87 L293.0,148.55 L293.5,148.61 L294.0,148.58 L294.5,148.85 L295.0,148.31 L295.5,148.85 L296.0,148.81 L296.5,148.82 L297.0,148.85 L297.5,148.60 L298.0,148.70 L298.5,148.93 L299.0,148.88 L299.5,148.82 L300.0,148.40 L300.5,148.91 L301.0,149.07 L301.5,149.03 L302.0,148.84 L302.5,148.39 L303.0,149.01 L303.5,148.74 L304.0,148.14 L304.5,148.87 L305.0,148.40 L305.5,148.45 L306.0,148.61 L306.5,149.09 L307.0,148.67 L307.5,148.83 L308.0,149.19 L308.5,149.14 L309.0,148.71 L309.5,148.66 L310.0,148.36 L310.5,148.33 L311.0,147.77 L311.5,145.37 L312.0,141.89 L312.5,140.93 L313.0,142.98 L313.5,146.44 L314.0,148.32 L314.5,148.76 L315.0,148.97 L315.5,148.83 L316.0,148.66 L316.5,148.84 L317.0,148.51 L317.5,148.36" fill="none" stroke="#35ad6b" stroke-width="2.8" stroke-linejoin="round" stroke-linecap="round"/><path d="M369.5,202.14 L370.0,200.66 L370.5,199.76 L371.0,199.17 L371.5,198.07 L372.0,197.07 L372.5,197.06 L373.0,196.57 L373.5,195.59 L374.0,197.43 L374.5,198.32 L375.0,197.41 L375.5,197.63 L376.0,197.81 L376.5,198.12 L377.0,198.42 L377.5,198.10 L378.0,199.16 L378.5,199.66 L379.0,200.18 L379.5,199.66 L380.0,198.44 L380.5,201.13 L381.0,202.20 L381.5,201.21 L382.0,201.86 L382.5,201.72 L383.0,201.54 L383.5,200.60 L384.0,200.12 L384.5,201.25 L385.0,201.89 L385.5,202.92 L386.0,201.64 L386.5,202.01 L387.0,201.99 L387.5,198.89 L388.0,197.25 L388.5,199.82 L389.0,201.38 L389.5,199.44 L390.0,198.71 L390.5,198.15 L391.0,199.60 L391.5,200.19 L392.0,200.34 L392.5,200.05 L393.0,196.60 L393.5,197.19 L394.0,198.51 L394.5,197.42 L395.0,198.67 L395.5,198.36 L396.0,197.72 L396.5,197.58 L397.0,195.71 L397.5,195.61 L398.0,195.04 L398.5,194.79 L399.0,195.13 L399.5,193.33 L400.0,192.20 L400.5,191.83 L401.0,190.53 L401.5,190.25 L402.0,189.74 L402.5,189.02 L403.0,188.03 L403.5,187.34 L404.0,188.31 L404.5,187.61 L405.0,186.96 L405.5,187.16 L406.0,188.06 L406.5,187.91 L407.0,187.68 L407.5,189.44 L408.0,189.38 L408.5,187.05 L409.0,187.21 L409.5,189.80 L410.0,190.12 L410.5,190.89 L411.0,192.34 L411.5,192.53 L412.0,192.50 L412.5,192.32 L413.0,192.71 L413.5,193.45 L414.0,194.35 L414.5,194.91 L415.0,194.53 L415.5,194.50 L416.0,195.25 L416.5,194.10 L417.0,193.33 L417.5,194.06 L418.0,194.53 L418.5,194.93 L419.0,194.86 L419.5,194.35 L420.0,195.01 L420.5,195.84 L421.0,193.93 L421.5,193.63 L422.0,193.93 L422.5,195.14 L423.0,195.55 L423.5,193.79 L424.0,194.10 L424.5,194.14 L425.0,193.92 L425.5,195.18 L426.0,195.28 L426.5,194.60 L427.0,195.17 L427.5,193.62 L428.0,193.92 L428.5,195.08 L429.0,194.36 L429.5,193.01 L430.0,192.76 L430.5,193.62 L431.0,192.43 L431.5,193.77 L432.0,194.51 L432.5,192.41 L433.0,192.00 L433.5,192.77 L434.0,193.39 L434.5,193.01 L435.0,192.96 L435.5,193.53 L436.0,191.50 L436.5,189.84 L437.0,189.96 L437.5,190.29 L438.0,192.04 L438.5,192.34 L439.0,190.25 L439.5,189.36 L440.0,190.82 L440.5,190.47 L441.0,189.43 L441.5,189.93 L442.0,188.43 L442.5,188.67 L443.0,190.25 L443.5,189.98 L444.0,188.87 L444.5,187.78 L445.0,188.06 L445.5,188.86 L446.0,189.38 L446.5,189.29 L447.0,190.63 L447.5,191.56 L448.0,189.59 L448.5,188.06 L449.0,189.96 L449.5,190.23 L450.0,189.96 L450.5,191.46 L451.0,189.96 L451.5,188.50 L452.0,188.99 L452.5,188.52 L453.0,187.70 L453.5,188.08 L454.0,189.53 L454.5,189.52 L455.0,188.72 L455.5,188.74 L456.0,187.88 L456.5,189.45 L457.0,188.74 L457.5,187.12 L458.0,189.46 L458.5,189.05 L459.0,189.46 L459.5,192.08 L460.0,191.59 L460.5,191.53 L461.0,192.13 L461.5,193.19 L462.0,194.92 L462.5,195.43 L463.0,197.07 L463.5,197.86 L464.0,198.45 L464.5,199.19 L465.0,197.82 L465.5,198.15 L466.0,200.10 L466.5,199.37 L467.0,200.62 L467.5,202.38 L468.0,202.18 L468.5,201.94 L469.0,202.20 L469.5,203.58 L470.0,203.67 L470.5,203.84 L471.0,202.73 L471.5,203.99 L472.0,205.02 L472.5,202.46 L473.0,202.79 L473.5,204.03 L474.0,205.39 L474.5,205.50 L475.0,205.46 L475.5,205.58 L476.0,207.23 L476.5,208.55 L477.0,208.50 L477.5,207.42 L478.0,206.55 L478.5,206.74 L479.0,206.80 L479.5,208.20 L480.0,206.62 L480.5,205.31 L481.0,205.75 L481.5,205.57 L482.0,206.02 L482.5,206.56 L483.0,206.11 L483.5,207.06 L484.0,208.75 L484.5,207.78 L485.0,207.06 L485.5,208.25 L486.0,208.68 L486.5,208.32 L487.0,209.34 L487.5,210.76 L488.0,210.88 L488.5,210.28 L489.0,211.53 L489.5,213.29 L490.0,211.65 L490.5,210.41 L491.0,211.88 L491.5,211.56 L492.0,211.14 L492.5,211.99 L493.0,211.30 L493.5,211.26 L494.0,210.75 L494.5,210.69 L495.0,210.55 L495.5,212.94 L496.0,215.87 L496.5,215.23 L497.0,214.47 L497.5,214.46 L498.0,215.38 L498.5,215.54 L499.0,215.40 L499.5,214.01 L500.0,213.73 L500.5,214.11 L501.0,212.91 L501.5,212.48 L502.0,213.75 L502.5,215.47 L503.0,214.06 L503.5,214.60 L504.0,216.81 L504.5,215.14 L505.0,213.61 L505.5,213.84 L506.0,214.96 L506.5,214.70 L507.0,213.05 L507.5,213.60 L508.0,212.84 L508.5,212.66 L509.0,215.16 L509.5,215.27 L510.0,214.95 L510.5,215.07 L511.0,214.99 L511.5,214.67 L512.0,213.40 L512.5,213.04 L513.0,213.56 L513.5,214.64 L514.0,215.89 L514.5,215.13 L515.0,213.17 L515.5,212.16 L516.0,212.48 L516.5,214.02 L517.0,214.30 L517.5,213.04 L518.0,212.05 L518.5,212.64 L519.0,213.32 L519.5,212.45 L520.0,212.15 L520.5,213.36 L521.0,213.00 L521.5,212.85 L522.0,213.79 L522.5,212.35 L523.0,211.89 L523.5,211.57 L524.0,210.02 L524.5,209.70 L525.0,209.41 L525.5,209.78 L526.0,210.25 L526.5,210.03 L527.0,210.40 L527.5,207.23 L528.0,206.54 L528.5,207.27 L529.0,206.85 L529.5,207.26 L530.0,206.89 L530.5,208.30 L531.0,206.46 L531.5,205.09 L532.0,205.87 L532.5,203.71 L533.0,203.73 L533.5,204.68 L534.0,203.22 L534.5,202.07 L535.0,204.45 L535.5,204.19 L536.0,199.79 L536.5,198.93 L537.0,199.67 L537.5,199.77 L538.0,199.74 L538.5,199.01 L539.0,199.29 L539.5,199.54 L540.0,197.88 L540.5,197.45 L541.0,198.06 L541.5,199.21 L542.0,199.75 L542.5,198.68 L543.0,198.19 L543.5,198.50 L544.0,199.96 L544.5,199.19 L545.0,197.85 L545.5,198.79 L546.0,197.57 L546.5,197.04 L547.0,197.80 L547.5,197.17 L548.0,197.38 L548.5,198.43 L549.0,198.74 L549.5,197.66 L550.0,196.79 L550.5,198.64 L551.0,197.50 L551.5,195.71 L552.0,197.15 L552.5,196.99 L553.0,196.71 L553.5,196.66 L554.0,196.67 L554.5,197.51 L555.0,196.73 L555.5,195.99 L556.0,196.40 L556.5,196.36 L557.0,196.92 L557.5,196.94 L558.0,198.16 L558.5,200.97 L559.0,202.25 L559.5,202.35 L560.0,200.54 L560.5,200.93 L561.0,201.31 L561.5,200.24 L562.0,202.40 L562.5,201.74 L563.0,201.09 L563.5,202.27 L564.0,201.61 L564.5,200.81 L565.0,201.36 L565.5,201.78 L566.0,202.37 L566.5,203.78 L567.0,201.98 L567.5,200.72 L568.0,201.65 L568.5,201.22 L569.0,200.70 L569.5,201.78 L570.0,202.59 L570.5,201.31 L571.0,201.14 L571.5,202.93 L572.0,202.49 L572.5,201.44 L573.0,203.70 L573.5,205.54 L574.0,203.10 L574.5,201.09 L575.0,202.73 L575.5,202.94 L576.0,202.52 L576.5,203.18 L577.0,203.89 L577.5,202.34 L578.0,200.26 L578.5,201.36 L579.0,203.96 L579.5,204.89 L580.0,202.84 L580.5,203.44 L581.0,205.42 L581.5,204.94 L582.0,204.23 L582.5,204.86 L583.0,206.17 L583.5,206.05 L584.0,205.63 L584.5,205.58 L585.0,204.97 L585.5,204.40 L586.0,205.00 L586.5,205.58 L587.0,205.29 L587.5,206.35 L588.0,207.02 L588.5,207.07 L589.0,205.54 L589.5,205.38 L590.0,206.23 L590.5,205.23 L591.0,205.09 L591.5,206.73 L592.0,208.10 L592.5,206.64 L593.0,205.15 L593.5,205.77 L594.0,206.35 L594.5,207.68 L595.0,206.95 L595.5,204.26 L596.0,205.25 L596.5,206.73 L597.0,207.08 L597.5,207.70 L598.0,209.26 L598.5,208.44 L599.0,206.42 L599.5,205.35 L600.0,205.99 L600.5,208.07 L601.0,207.69 L601.5,207.97 L602.0,208.22 L602.5,208.49 L603.0,208.74 L603.5,206.73 L604.0,205.97 L604.5,205.60 L605.0,204.72 L605.5,206.11 L606.0,208.12 L606.5,209.40 L607.0,208.63 L607.5,206.87 L608.0,205.99 L608.5,206.89 L609.0,208.00 L609.5,206.69 L610.0,206.86 L610.5,207.69 L611.0,205.62 L611.5,205.69 L612.0,207.19 L612.5,206.22 L613.0,205.71 L613.5,207.29 L614.0,208.72 L614.5,208.67 L615.0,206.46 L615.5,204.39 L616.0,205.88 L616.5,205.31 L617.0,203.90 L617.5,203.29 L618.0,205.16 L618.5,207.25 L619.0,206.01 L619.5,205.19 L620.0,204.35 L620.5,203.69 L621.0,204.31 L621.5,203.85 L622.0,204.11 L622.5,204.04 L623.0,202.15 L623.5,203.29 L624.0,203.60 L624.5,202.75 L625.0,202.26 L625.5,199.80 L626.0,200.28 L626.5,200.72 L627.0,200.88 L627.5,200.48 L628.0,197.93 L628.5,199.16 L629.0,200.74 L629.5,200.39 L630.0,198.93 L630.5,199.38 L631.0,199.01 L631.5,197.78 L632.0,198.14 L632.5,198.04 L633.0,199.15 L633.5,198.78 L634.0,198.40 L634.5,199.28 L635.0,197.35 L635.5,195.75 L636.0,196.65 L636.5,196.98 L637.0,197.41 L637.5,196.27 L638.0,196.51 L638.5,198.54 L639.0,197.79 L639.5,196.10 L640.0,196.22 L640.5,196.90 L641.0,197.38 L641.5,197.81 L642.0,198.03 L642.5,197.87 L643.0,198.57 L643.5,197.26 L644.0,195.50 L644.5,197.88 L645.0,197.69 L645.5,198.08 L646.0,198.53 L646.5,198.24 L647.0,198.70 L647.5,198.51 L648.0,199.59 L648.5,200.07 L649.0,199.85 L649.5,201.83 L650.0,202.33 L650.5,200.07 L651.0,200.97 L651.5,202.53 L652.0,202.90 L652.5,203.79 L653.0,202.22 L653.5,201.77 L654.0,203.52 L654.5,202.81 L655.0,202.22 L655.5,199.98 L656.0,199.45 L656.5,203.31 L657.0,202.47 L657.5,200.75 L658.0,202.48 L658.5,203.46 L659.0,204.61 L659.5,202.88 L660.0,201.74 L660.5,203.90 L661.0,202.94 L661.5,202.34 L662.0,204.94 L662.5,206.11 L663.0,205.16 L663.5,202.19 L664.0,201.77 L664.5,204.22 L665.0,204.18 L665.5,203.93 L666.0,206.69 L666.5,206.67 L667.0,203.60 L667.5,204.06 L668.0,204.67 L668.5,204.33 L669.0,204.61 L669.5,205.56 L670.0,205.91 L670.5,204.46 L671.0,204.26 L671.5,205.67 L672.0,205.51" fill="none" stroke="#ec3c42" stroke-width="3.3" stroke-linejoin="round" stroke-linecap="round"/><path d="M369.5,161.90 L370.0,161.86 L370.5,161.73 L371.0,161.60 L371.5,162.19 L372.0,162.73 L372.5,163.12 L373.0,162.91 L373.5,163.29 L374.0,163.55 L374.5,163.53 L375.0,163.88 L375.5,163.74 L376.0,163.42 L376.5,163.70 L377.0,163.78 L377.5,163.95 L378.0,164.72 L378.5,165.06 L379.0,164.60 L379.5,163.88 L380.0,164.15 L380.5,164.75 L381.0,165.34 L381.5,165.32 L382.0,164.86 L382.5,165.36 L383.0,165.27 L383.5,164.89 L384.0,165.77 L384.5,166.40 L385.0,165.91 L385.5,165.35 L386.0,164.63 L386.5,164.67 L387.0,165.01 L387.5,164.78 L388.0,164.45 L388.5,164.25 L389.0,164.29 L389.5,164.32 L390.0,164.87 L390.5,164.79 L391.0,163.43 L391.5,162.79 L392.0,162.71 L392.5,162.67 L393.0,163.43 L393.5,163.79 L394.0,163.19 L394.5,163.00 L395.0,162.79 L395.5,161.96 L396.0,161.54 L396.5,161.60 L397.0,162.59 L397.5,162.21 L398.0,161.92 L398.5,162.78 L399.0,161.96 L399.5,161.15 L400.0,160.73 L400.5,160.51 L401.0,160.82 L401.5,160.62 L402.0,160.53 L402.5,160.77 L403.0,160.27 L403.5,159.70 L404.0,159.35 L404.5,159.21 L405.0,158.68 L405.5,158.67 L406.0,159.24 L406.5,158.83 L407.0,159.77 L407.5,159.92 L408.0,158.91 L408.5,159.65 L409.0,159.45 L409.5,159.24 L410.0,159.61 L410.5,159.75 L411.0,160.56 L411.5,161.34 L412.0,162.11 L412.5,162.57 L413.0,162.85 L413.5,162.97 L414.0,162.46 L414.5,162.78 L415.0,162.81 L415.5,162.11 L416.0,162.93 L416.5,163.50 L417.0,162.97 L417.5,162.95 L418.0,163.22 L418.5,162.36 L419.0,161.96 L419.5,162.04 L420.0,162.12 L420.5,162.33 L421.0,162.84 L421.5,163.32 L422.0,162.44 L422.5,162.22 L423.0,162.05 L423.5,162.08 L424.0,162.79 L424.5,162.89 L425.0,161.87 L425.5,161.63 L426.0,162.62 L426.5,162.87 L427.0,163.12 L427.5,162.45 L428.0,162.17 L428.5,162.41 L429.0,162.25 L429.5,162.66 L430.0,162.83 L430.5,162.40 L431.0,162.17 L431.5,161.90 L432.0,161.22 L432.5,161.90 L433.0,162.43 L433.5,161.52 L434.0,161.18 L434.5,161.83 L435.0,162.80 L435.5,163.20 L436.0,162.88 L436.5,161.72 L437.0,161.34 L437.5,162.26 L438.0,162.45 L438.5,162.42 L439.0,162.15 L439.5,162.70 L440.0,163.39 L440.5,162.63 L441.0,161.62 L441.5,162.49 L442.0,162.65 L442.5,162.30 L443.0,163.30 L443.5,162.41 L444.0,161.75 L444.5,161.98 L445.0,162.06 L445.5,162.33 L446.0,162.90 L446.5,163.00 L447.0,162.19 L447.5,162.39 L448.0,162.27 L448.5,161.64 L449.0,162.64 L449.5,162.42 L450.0,161.28 L450.5,161.60 L451.0,161.34 L451.5,160.43 L452.0,161.26 L452.5,161.78 L453.0,161.10 L453.5,161.24 L454.0,161.04 L454.5,160.74 L455.0,161.19 L455.5,162.60 L456.0,162.83 L456.5,162.22 L457.0,161.47 L457.5,161.41 L458.0,161.86 L458.5,162.55 L459.0,163.33 L459.5,163.43 L460.0,163.88 L460.5,163.98 L461.0,163.69 L461.5,164.43 L462.0,164.75 L462.5,164.29 L463.0,164.98 L463.5,165.42 L464.0,165.89 L464.5,166.84 L465.0,167.07 L465.5,166.97 L466.0,167.11 L466.5,167.60 L467.0,167.07 L467.5,167.09 L468.0,167.68 L468.5,167.25 L469.0,167.85 L469.5,168.41 L470.0,168.87 L470.5,169.69 L471.0,168.72 L471.5,168.46 L472.0,170.42 L472.5,171.02 L473.0,171.02 L473.5,170.91 L474.0,169.93 L474.5,169.63 L475.0,170.69 L475.5,171.73 L476.0,171.32 L476.5,170.98 L477.0,171.55 L477.5,171.10 L478.0,171.00 L478.5,172.52 L479.0,173.71 L479.5,173.14 L480.0,173.14 L480.5,173.11 L481.0,172.16 L481.5,171.59 L482.0,172.44 L482.5,173.33 L483.0,174.02 L483.5,174.43 L484.0,173.67 L484.5,172.92 L485.0,173.57 L485.5,174.27 L486.0,173.70 L486.5,173.06 L487.0,173.61 L487.5,175.03 L488.0,174.50 L488.5,174.24 L489.0,174.75 L489.5,175.21 L490.0,175.19 L490.5,175.61 L491.0,175.57 L491.5,174.72 L492.0,174.73 L492.5,174.04 L493.0,174.00 L493.5,175.54 L494.0,176.08 L494.5,175.43 L495.0,175.56 L495.5,175.16 L496.0,174.99 L496.5,176.12 L497.0,176.60 L497.5,176.15 L498.0,176.32 L498.5,177.48 L499.0,177.00 L499.5,176.61 L500.0,176.21 L500.5,175.17 L501.0,176.11 L501.5,176.98 L502.0,176.86 L502.5,176.64 L503.0,176.49 L503.5,177.10 L504.0,177.96 L504.5,177.59 L505.0,176.25 L505.5,176.90 L506.0,177.86 L506.5,177.66 L507.0,177.52 L507.5,178.22 L508.0,178.21 L508.5,177.50 L509.0,176.74 L509.5,176.31 L510.0,176.81 L510.5,177.05 L511.0,177.48 L511.5,177.19 L512.0,177.76 L512.5,177.63 L513.0,176.74 L513.5,177.27 L514.0,176.94 L514.5,177.07 L515.0,177.83 L515.5,177.47 L516.0,177.99 L516.5,178.13 L517.0,177.45 L517.5,177.02 L518.0,176.21 L518.5,176.33 L519.0,176.87 L519.5,176.93 L520.0,177.36 L520.5,176.55 L521.0,175.76 L521.5,175.97 L522.0,176.96 L522.5,177.44 L523.0,176.63 L523.5,176.34 L524.0,176.82 L524.5,177.00 L525.0,176.59 L525.5,175.79 L526.0,176.03 L526.5,176.87 L527.0,176.45 L527.5,176.63 L528.0,176.16 L528.5,175.41 L529.0,175.61 L529.5,175.69 L530.0,175.13 L530.5,174.81 L531.0,174.52 L531.5,174.60 L532.0,174.98 L532.5,174.47 L533.0,174.63 L533.5,173.78 L534.0,172.68 L534.5,173.79 L535.0,173.49 L535.5,171.92 L536.0,172.46 L536.5,173.14 L537.0,171.90 L537.5,171.83 L538.0,171.76 L538.5,170.76 L539.0,170.98 L539.5,171.20 L540.0,170.68 L540.5,170.59 L541.0,170.49 L541.5,170.54 L542.0,170.81 L542.5,170.96 L543.0,170.66 L543.5,169.69 L544.0,169.23 L544.5,169.56 L545.0,170.63 L545.5,170.99 L546.0,170.01 L546.5,169.97 L547.0,169.68 L547.5,169.65 L548.0,169.92 L548.5,169.77 L549.0,170.16 L549.5,169.71 L550.0,169.58 L550.5,169.27 L551.0,169.14 L551.5,170.07 L552.0,171.85 L552.5,171.78 L553.0,170.24 L553.5,169.66 L554.0,170.18 L554.5,170.06 L555.0,169.44 L555.5,170.43 L556.0,170.42 L556.5,171.07 L557.0,172.18 L557.5,171.48 L558.0,170.98 L558.5,170.83 L559.0,170.65 L559.5,171.53 L560.0,172.51 L560.5,172.61 L561.0,172.59 L561.5,172.34 L562.0,172.48 L562.5,172.20 L563.0,172.15 L563.5,173.44 L564.0,174.06 L564.5,173.35 L565.0,172.74 L565.5,173.58 L566.0,174.52 L566.5,173.42 L567.0,172.60 L567.5,173.39 L568.0,174.16 L568.5,173.81 L569.0,173.67 L569.5,173.99 L570.0,174.81 L570.5,175.21 L571.0,174.29 L571.5,174.08 L572.0,174.68 L572.5,175.21 L573.0,174.44 L573.5,174.36 L574.0,174.37 L574.5,174.09 L575.0,174.22 L575.5,174.10 L576.0,174.47 L576.5,174.72 L577.0,175.33 L577.5,176.18 L578.0,175.97 L578.5,175.30 L579.0,175.83 L579.5,175.57 L580.0,174.55 L580.5,175.78 L581.0,176.94 L581.5,177.14 L582.0,176.87 L582.5,176.05 L583.0,176.03 L583.5,176.88 L584.0,176.88 L584.5,176.46 L585.0,176.30 L585.5,176.20 L586.0,177.20 L586.5,177.94 L587.0,177.18 L587.5,176.61 L588.0,176.89 L588.5,177.59 L589.0,177.37 L589.5,177.10 L590.0,176.72 L590.5,176.30 L591.0,177.37 L591.5,178.28 L592.0,177.65 L592.5,176.98 L593.0,177.80 L593.5,177.97 L594.0,177.44 L594.5,177.83 L595.0,178.14 L595.5,178.40 L596.0,178.66 L596.5,177.98 L597.0,177.61 L597.5,177.84 L598.0,177.34 L598.5,176.98 L599.0,177.94 L599.5,177.70 L600.0,177.72 L600.5,178.50 L601.0,178.05 L601.5,178.16 L602.0,178.43 L602.5,178.71 L603.0,178.37 L603.5,177.79 L604.0,177.86 L604.5,178.74 L605.0,179.24 L605.5,178.10 L606.0,177.58 L606.5,177.68 L607.0,177.83 L607.5,178.22 L608.0,179.16 L608.5,178.33 L609.0,177.82 L609.5,178.75 L610.0,178.05 L610.5,177.81 L611.0,177.90 L611.5,177.98 L612.0,178.60 L612.5,177.95 L613.0,178.07 L613.5,178.52 L614.0,178.58 L614.5,178.87 L615.0,178.73 L615.5,178.76 L616.0,178.66 L616.5,178.40 L617.0,177.57 L617.5,177.77 L618.0,178.35 L618.5,178.87 L619.0,177.70 L619.5,176.70 L620.0,177.90 L620.5,177.40 L621.0,176.82 L621.5,178.14 L622.0,178.75 L622.5,177.46 L623.0,177.41 L623.5,178.20 L624.0,177.88 L624.5,177.49 L625.0,177.21 L625.5,176.63 L626.0,176.25 L626.5,176.83 L627.0,177.02 L627.5,177.40 L628.0,177.12 L628.5,175.30 L629.0,175.21 L629.5,176.23 L630.0,176.44 L630.5,176.27 L631.0,175.70 L631.5,176.21 L632.0,176.21 L632.5,175.83 L633.0,175.93 L633.5,175.09 L634.0,175.75 L634.5,175.18 L635.0,174.22 L635.5,175.41 L636.0,175.61 L636.5,175.74 L637.0,175.86 L637.5,175.39 L638.0,176.34 L638.5,176.46 L639.0,175.55 L639.5,175.25 L640.0,175.05 L640.5,175.81 L641.0,176.41 L641.5,176.21 L642.0,175.76 L642.5,176.11 L643.0,175.77 L643.5,175.42 L644.0,176.10 L644.5,175.97 L645.0,176.22 L645.5,176.37 L646.0,176.06 L646.5,177.16 L647.0,177.87 L647.5,177.71 L648.0,177.51 L648.5,177.50 L649.0,177.87 L649.5,178.05 L650.0,178.78 L650.5,178.26 L651.0,177.47 L651.5,177.61 L652.0,176.13 L652.5,175.65 L653.0,177.15 L653.5,178.04 L654.0,177.86 L654.5,178.13 L655.0,178.95 L655.5,178.38 L656.0,178.50 L656.5,179.44 L657.0,179.11 L657.5,178.05 L658.0,178.53 L658.5,178.92 L659.0,178.23 L659.5,178.40 L660.0,178.40 L660.5,178.85 L661.0,179.45 L661.5,179.57 L662.0,179.55 L662.5,178.79 L663.0,178.54 L663.5,179.29 L664.0,179.24 L664.5,180.14 L665.0,180.27 L665.5,178.89 L666.0,179.52 L666.5,180.13 L667.0,179.70 L667.5,179.36 L668.0,179.61 L668.5,180.10 L669.0,180.30 L669.5,179.89 L670.0,179.82 L670.5,180.35 L671.0,180.54 L671.5,178.99 L672.0,178.37" fill="none" stroke="#1f6fe0" stroke-width="3.1" stroke-linejoin="round" stroke-linecap="round"/><path d="M369.5,125.62 L370.0,125.32 L370.5,124.04 L371.0,124.19 L371.5,124.95 L372.0,125.43 L372.5,125.66 L373.0,125.15 L373.5,124.46 L374.0,124.04 L374.5,124.16 L375.0,124.43 L375.5,124.98 L376.0,125.03 L376.5,125.85 L377.0,127.35 L377.5,128.87 L378.0,129.98 L378.5,129.85 L379.0,130.71 L379.5,131.31 L380.0,131.61 L380.5,131.86 L381.0,132.75 L381.5,133.58 L382.0,132.61 L382.5,132.28 L383.0,132.88 L383.5,132.90 L384.0,132.51 L384.5,131.83 L385.0,131.25 L385.5,131.33 L386.0,131.63 L386.5,131.05 L387.0,130.09 L387.5,130.53 L388.0,130.35 L388.5,130.11 L389.0,130.30 L389.5,130.03 L390.0,130.35 L390.5,130.09 L391.0,129.55 L391.5,128.80 L392.0,128.08 L392.5,128.41 L393.0,128.97 L393.5,128.99 L394.0,129.02 L394.5,128.38 L395.0,127.36 L395.5,127.29 L396.0,126.90 L396.5,126.17 L397.0,125.41 L397.5,125.36 L398.0,124.84 L398.5,123.91 L399.0,122.85 L399.5,122.08 L400.0,121.32 L400.5,120.35 L401.0,119.17 L401.5,117.71 L402.0,117.70 L402.5,116.73 L403.0,115.69 L403.5,115.42 L404.0,114.54 L404.5,114.92 L405.0,116.08 L405.5,115.87 L406.0,116.28 L406.5,116.78 L407.0,116.66 L407.5,117.37 L408.0,117.90 L408.5,119.12 L409.0,119.31 L409.5,119.32 L410.0,120.79 L410.5,120.44 L411.0,120.06 L411.5,121.46 L412.0,122.33 L412.5,122.66 L413.0,123.63 L413.5,123.76 L414.0,123.38 L414.5,122.93 L415.0,123.69 L415.5,124.60 L416.0,124.86 L416.5,125.42 L417.0,124.90 L417.5,125.45 L418.0,126.33 L418.5,126.05 L419.0,125.29 L419.5,124.87 L420.0,125.11 L420.5,125.12 L421.0,124.94 L421.5,125.24 L422.0,125.72 L422.5,125.70 L423.0,125.45 L423.5,125.77 L424.0,126.01 L424.5,124.59 L425.0,124.27 L425.5,125.17 L426.0,125.68 L426.5,125.55 L427.0,125.06 L427.5,124.87 L428.0,125.12 L428.5,125.12 L429.0,124.60 L429.5,124.41 L430.0,124.73 L430.5,124.71 L431.0,123.85 L431.5,124.16 L432.0,124.40 L432.5,124.22 L433.0,124.50 L433.5,124.71 L434.0,124.86 L434.5,124.16 L435.0,123.66 L435.5,123.33 L436.0,123.89 L436.5,124.42 L437.0,124.24 L437.5,123.89 L438.0,122.61 L438.5,123.17 L439.0,123.82 L439.5,123.25 L440.0,123.15 L440.5,123.24 L441.0,123.31 L441.5,122.45 L442.0,122.55 L442.5,122.83 L443.0,122.20 L443.5,122.89 L444.0,123.29 L444.5,122.48 L445.0,121.42 L445.5,121.51 L446.0,122.26 L446.5,122.09 L447.0,121.38 L447.5,121.05 L448.0,120.96 L448.5,121.23 L449.0,121.88 L449.5,122.08 L450.0,121.45 L450.5,121.08 L451.0,121.43 L451.5,121.08 L452.0,120.74 L452.5,121.56 L453.0,121.60 L453.5,121.09 L454.0,120.80 L454.5,120.44 L455.0,119.96 L455.5,119.91 L456.0,120.91 L456.5,121.70 L457.0,121.85 L457.5,121.60 L458.0,121.53 L458.5,121.46 L459.0,121.83 L459.5,122.74 L460.0,123.04 L460.5,123.70 L461.0,124.18 L461.5,123.79 L462.0,124.32 L462.5,124.88 L463.0,125.24 L463.5,126.70 L464.0,127.60 L464.5,127.81 L465.0,128.81 L465.5,129.72 L466.0,129.70 L466.5,130.28 L467.0,131.16 L467.5,131.26 L468.0,131.83 L468.5,131.89 L469.0,132.00 L469.5,132.98 L470.0,133.97 L470.5,134.38 L471.0,134.62 L471.5,135.57 L472.0,136.60 L472.5,137.01 L473.0,137.43 L473.5,137.50 L474.0,137.42 L474.5,138.13 L475.0,138.58 L475.5,138.74 L476.0,139.85 L476.5,140.39 L477.0,139.89 L477.5,140.55 L478.0,141.93 L478.5,142.19 L479.0,142.38 L479.5,142.58 L480.0,142.36 L480.5,142.63 L481.0,143.10 L481.5,144.30 L482.0,144.26 L482.5,144.48 L483.0,144.81 L483.5,144.44 L484.0,145.34 L484.5,145.90 L485.0,145.95 L485.5,145.40 L486.0,145.67 L486.5,146.12 L487.0,147.12 L487.5,147.63 L488.0,147.03 L488.5,146.94 L489.0,146.93 L489.5,147.12 L490.0,147.86 L490.5,148.46 L491.0,148.55 L491.5,148.63 L492.0,148.49 L492.5,149.40 L493.0,149.45 L493.5,148.59 L494.0,149.26 L494.5,149.67 L495.0,149.55 L495.5,150.42 L496.0,150.45 L496.5,150.59 L497.0,150.79 L497.5,151.14 L498.0,151.98 L498.5,151.43 L499.0,151.03 L499.5,151.02 L500.0,151.28 L500.5,152.08 L501.0,151.61 L501.5,151.63 L502.0,151.76 L502.5,151.23 L503.0,151.15 L503.5,152.26 L504.0,152.98 L504.5,152.41 L505.0,152.23 L505.5,152.59 L506.0,152.16 L506.5,151.87 L507.0,153.43 L507.5,153.34 L508.0,152.63 L508.5,153.04 L509.0,152.79 L509.5,152.60 L510.0,153.24 L510.5,153.32 L511.0,153.14 L511.5,152.97 L512.0,152.97 L512.5,153.13 L513.0,153.55 L513.5,153.80 L514.0,153.22 L514.5,152.13 L515.0,152.48 L515.5,153.60 L516.0,153.04 L516.5,152.09 L517.0,152.01 L517.5,153.01 L518.0,153.01 L518.5,152.48 L519.0,152.86 L519.5,153.36 L520.0,153.18 L520.5,152.62 L521.0,152.32 L521.5,152.80 L522.0,153.24 L522.5,152.48 L523.0,151.43 L523.5,150.94 L524.0,151.34 L524.5,151.04 L525.0,150.80 L525.5,150.80 L526.0,150.20 L526.5,149.89 L527.0,149.54 L527.5,148.60 L528.0,147.89 L528.5,148.55 L529.0,147.74 L529.5,146.22 L530.0,146.44 L530.5,145.96 L531.0,144.71 L531.5,143.71 L532.0,143.60 L532.5,143.86 L533.0,143.64 L533.5,142.81 L534.0,142.19 L534.5,141.33 L535.0,140.54 L535.5,140.20 L536.0,139.75 L536.5,139.81 L537.0,139.70 L537.5,138.70 L538.0,138.40 L538.5,138.22 L539.0,137.07 L539.5,136.83 L540.0,136.33 L540.5,136.06 L541.0,136.35 L541.5,135.98 L542.0,135.79 L542.5,135.49 L543.0,135.07 L543.5,134.48 L544.0,134.31 L544.5,134.36 L545.0,134.03 L545.5,134.14 L546.0,134.22 L546.5,133.54 L547.0,132.80 L547.5,133.15 L548.0,133.76 L548.5,133.90 L549.0,133.99 L549.5,134.28 L550.0,134.12 L550.5,133.67 L551.0,133.14 L551.5,132.83 L552.0,133.05 L552.5,133.49 L553.0,133.75 L553.5,133.69 L554.0,133.59 L554.5,133.84 L555.0,134.01 L555.5,133.93 L556.0,134.01 L556.5,133.80 L557.0,133.50 L557.5,134.08 L558.0,134.86 L558.5,134.92 L559.0,134.98 L559.5,136.21 L560.0,136.47 L560.5,135.97 L561.0,136.68 L561.5,136.69 L562.0,136.94 L562.5,138.24 L563.0,138.80 L563.5,138.66 L564.0,138.80 L564.5,138.88 L565.0,139.27 L565.5,139.43 L566.0,139.22 L566.5,139.57 L567.0,140.30 L567.5,140.65 L568.0,140.85 L568.5,140.32 L569.0,140.79 L569.5,142.60 L570.0,142.96 L570.5,142.34 L571.0,141.89 L571.5,142.41 L572.0,142.67 L572.5,143.14 L573.0,143.61 L573.5,144.00 L574.0,144.95 L574.5,144.21 L575.0,144.13 L575.5,144.88 L576.0,144.57 L576.5,144.88 L577.0,145.58 L577.5,146.45 L578.0,146.31 L578.5,146.62 L579.0,148.15 L579.5,148.29 L580.0,148.07 L580.5,148.14 L581.0,147.80 L581.5,148.24 L582.0,149.01 L582.5,149.27 L583.0,150.20 L583.5,150.34 L584.0,149.70 L584.5,150.08 L585.0,149.54 L585.5,148.68 L586.0,149.10 L586.5,149.34 L587.0,149.78 L587.5,149.97 L588.0,150.39 L588.5,151.09 L589.0,150.81 L589.5,150.20 L590.0,150.19 L590.5,150.65 L591.0,150.10 L591.5,149.97 L592.0,150.62 L592.5,150.59 L593.0,150.91 L593.5,151.26 L594.0,150.44 L594.5,150.06 L595.0,150.05 L595.5,150.21 L596.0,150.20 L596.5,150.32 L597.0,150.76 L597.5,150.77 L598.0,150.59 L598.5,149.74 L599.0,150.41 L599.5,150.85 L600.0,150.72 L600.5,150.93 L601.0,150.68 L601.5,151.17 L602.0,151.05 L602.5,150.90 L603.0,150.27 L603.5,150.09 L604.0,150.52 L604.5,150.17 L605.0,150.24 L605.5,150.40 L606.0,150.95 L606.5,150.16 L607.0,149.57 L607.5,149.93 L608.0,150.29 L608.5,150.35 L609.0,150.06 L609.5,150.02 L610.0,150.04 L610.5,150.48 L611.0,150.06 L611.5,149.67 L612.0,149.26 L612.5,149.29 L613.0,150.02 L613.5,149.66 L614.0,149.70 L614.5,149.11 L615.0,148.00 L615.5,148.16 L616.0,148.55 L616.5,148.94 L617.0,148.98 L617.5,148.84 L618.0,149.01 L618.5,148.75 L619.0,147.94 L619.5,147.55 L620.0,148.60 L620.5,148.09 L621.0,147.17 L621.5,148.36 L622.0,148.47 L622.5,147.55 L623.0,147.25 L623.5,147.72 L624.0,148.02 L624.5,147.29 L625.0,147.01 L625.5,147.28 L626.0,147.26 L626.5,147.52 L627.0,146.88 L627.5,145.76 L628.0,145.88 L628.5,146.87 L629.0,146.84 L629.5,146.17 L630.0,146.64 L630.5,146.08 L631.0,145.45 L631.5,145.51 L632.0,145.12 L632.5,145.26 L633.0,145.67 L633.5,145.22 L634.0,144.41 L634.5,144.08 L635.0,144.35 L635.5,144.65 L636.0,144.55 L636.5,144.26 L637.0,143.93 L637.5,144.61 L638.0,144.63 L638.5,144.47 L639.0,144.70 L639.5,144.37 L640.0,143.68 L640.5,144.20 L641.0,144.87 L641.5,144.95 L642.0,144.29 L642.5,143.47 L643.0,143.53 L643.5,143.92 L644.0,145.14 L644.5,145.75 L645.0,145.48 L645.5,145.44 L646.0,145.84 L646.5,145.82 L647.0,145.82 L647.5,146.12 L648.0,145.37 L648.5,145.33 L649.0,146.72 L649.5,146.87 L650.0,146.50 L650.5,146.59 L651.0,146.62 L651.5,147.37 L652.0,147.60 L652.5,147.00 L653.0,146.16 L653.5,146.46 L654.0,147.00 L654.5,146.72 L655.0,147.83 L655.5,148.85 L656.0,148.06 L656.5,148.26 L657.0,149.23 L657.5,148.82 L658.0,149.06 L658.5,148.92 L659.0,148.40 L659.5,148.61 L660.0,148.80 L660.5,149.76 L661.0,149.83 L661.5,149.28 L662.0,149.57 L662.5,150.19 L663.0,150.56 L663.5,150.95 L664.0,150.98 L664.5,150.39 L665.0,150.62 L665.5,151.23 L666.0,151.24 L666.5,151.49 L667.0,152.60 L667.5,152.46 L668.0,152.00 L668.5,152.84 L669.0,152.76 L669.5,152.15 L670.0,152.16 L670.5,152.76 L671.0,153.48 L671.5,153.45 L672.0,153.45" fill="none" stroke="#4a4a4a" stroke-width="2.9" stroke-linejoin="round" stroke-linecap="round"/><path d="M369.5,86.81 L370.0,87.22 L370.5,87.62 L371.0,87.11 L371.5,88.22 L372.0,88.94 L372.5,87.31 L373.0,88.15 L373.5,88.64 L374.0,88.41 L374.5,88.96 L375.0,88.94 L375.5,89.19 L376.0,88.88 L376.5,89.00 L377.0,90.73 L377.5,89.59 L378.0,88.61 L378.5,90.35 L379.0,89.82 L379.5,88.84 L380.0,90.76 L380.5,91.34 L381.0,91.26 L381.5,91.74 L382.0,90.49 L382.5,90.37 L383.0,90.59 L383.5,90.89 L384.0,90.64 L384.5,89.89 L385.0,89.59 L385.5,90.15 L386.0,90.37 L386.5,88.82 L387.0,87.80 L387.5,88.42 L388.0,88.27 L388.5,87.69 L389.0,87.34 L389.5,87.27 L390.0,87.94 L390.5,88.55 L391.0,88.19 L391.5,88.72 L392.0,88.57 L392.5,89.13 L393.0,89.67 L393.5,87.99 L394.0,87.02 L394.5,84.97 L395.0,85.09 L395.5,86.77 L396.0,87.90 L396.5,86.89 L397.0,86.79 L397.5,87.35 L398.0,86.55 L398.5,85.10 L399.0,84.64 L399.5,85.81 L400.0,86.00 L400.5,86.10 L401.0,84.82 L401.5,85.10 L402.0,85.93 L402.5,85.47 L403.0,85.39 L403.5,85.44 L404.0,84.61 L404.5,82.97 L405.0,82.02 L405.5,83.51 L406.0,84.71 L406.5,84.04 L407.0,83.55 L407.5,83.78 L408.0,84.38 L408.5,84.54 L409.0,84.49 L409.5,86.33 L410.0,87.21 L410.5,85.91 L411.0,85.40 L411.5,85.75 L412.0,87.35 L412.5,88.59 L413.0,88.34 L413.5,88.13 L414.0,88.15 L414.5,87.46 L415.0,88.40 L415.5,89.26 L416.0,89.93 L416.5,89.23 L417.0,87.66 L417.5,88.59 L418.0,88.48 L418.5,87.10 L419.0,86.64 L419.5,87.46 L420.0,88.17 L420.5,88.00 L421.0,88.33 L421.5,88.91 L422.0,88.44 L422.5,87.81 L423.0,87.41 L423.5,87.66 L424.0,88.29 L424.5,87.94 L425.0,87.60 L425.5,87.31 L426.0,86.14 L426.5,85.67 L427.0,86.86 L427.5,87.62 L428.0,88.01 L428.5,87.68 L429.0,87.14 L429.5,87.78 L430.0,87.74 L430.5,86.48 L431.0,85.67 L431.5,85.99 L432.0,85.40 L432.5,85.48 L433.0,86.55 L433.5,85.87 L434.0,86.32 L434.5,86.32 L435.0,84.93 L435.5,84.86 L436.0,84.47 L436.5,84.76 L437.0,85.11 L437.5,85.76 L438.0,86.04 L438.5,85.32 L439.0,84.78 L439.5,83.59 L440.0,83.64 L440.5,83.95 L441.0,84.56 L441.5,85.07 L442.0,85.56 L442.5,86.13 L443.0,85.80 L443.5,85.69 L444.0,85.54 L444.5,86.02 L445.0,86.70 L445.5,86.16 L446.0,86.17 L446.5,88.40 L447.0,88.32 L447.5,86.88 L448.0,86.76 L448.5,86.28 L449.0,87.57 L449.5,88.62 L450.0,88.21 L450.5,89.34 L451.0,90.66 L451.5,89.04 L452.0,88.15 L452.5,88.98 L453.0,88.53 L453.5,88.36 L454.0,88.02 L454.5,88.57 L455.0,88.85 L455.5,88.02 L456.0,88.30 L456.5,88.54 L457.0,88.01 L457.5,87.62 L458.0,88.34 L458.5,88.44 L459.0,87.53 L459.5,87.22 L460.0,87.81 L460.5,88.61 L461.0,89.91 L461.5,91.75 L462.0,91.52 L462.5,92.32 L463.0,94.70 L463.5,95.47 L464.0,95.20 L464.5,96.53 L465.0,97.35 L465.5,96.53 L466.0,96.93 L466.5,98.24 L467.0,100.03 L467.5,101.25 L468.0,101.29 L468.5,100.34 L469.0,100.21 L469.5,100.73 L470.0,101.34 L470.5,101.13 L471.0,101.59 L471.5,103.29 L472.0,103.40 L472.5,103.54 L473.0,103.32 L473.5,102.42 L474.0,102.82 L474.5,104.57 L475.0,105.76 L475.5,105.02 L476.0,105.33 L476.5,105.61 L477.0,106.00 L477.5,106.68 L478.0,105.73 L478.5,106.11 L479.0,106.12 L479.5,105.29 L480.0,105.09 L480.5,105.98 L481.0,106.98 L481.5,106.97 L482.0,106.94 L482.5,108.01 L483.0,108.17 L483.5,107.07 L484.0,108.22 L484.5,109.65 L485.0,109.28 L485.5,107.59 L486.0,107.19 L486.5,108.74 L487.0,109.26 L487.5,109.97 L488.0,109.31 L488.5,108.94 L489.0,109.53 L489.5,110.06 L490.0,110.54 L490.5,110.52 L491.0,110.34 L491.5,109.06 L492.0,108.94 L492.5,109.57 L493.0,109.77 L493.5,110.99 L494.0,112.54 L494.5,112.14 L495.0,110.89 L495.5,110.80 L496.0,111.15 L496.5,112.21 L497.0,112.94 L497.5,112.50 L498.0,112.20 L498.5,110.85 L499.0,110.74 L499.5,111.37 L500.0,112.14 L500.5,112.95 L501.0,112.34 L501.5,112.13 L502.0,113.59 L502.5,113.32 L503.0,111.92 L503.5,112.41 L504.0,112.60 L504.5,112.54 L505.0,113.33 L505.5,114.66 L506.0,113.35 L506.5,112.38 L507.0,113.50 L507.5,113.52 L508.0,113.43 L508.5,113.32 L509.0,114.07 L509.5,114.03 L510.0,113.40 L510.5,113.71 L511.0,113.88 L511.5,113.80 L512.0,114.35 L512.5,114.46 L513.0,113.99 L513.5,113.97 L514.0,113.28 L514.5,112.82 L515.0,112.79 L515.5,113.38 L516.0,113.56 L516.5,112.81 L517.0,113.35 L517.5,114.26 L518.0,113.06 L518.5,113.72 L519.0,114.74 L519.5,113.65 L520.0,114.23 L520.5,114.29 L521.0,113.27 L521.5,114.48 L522.0,114.16 L522.5,112.75 L523.0,113.80 L523.5,113.12 L524.0,112.43 L524.5,113.15 L525.0,114.47 L525.5,113.55 L526.0,111.93 L526.5,112.67 L527.0,112.57 L527.5,111.30 L528.0,111.33 L528.5,111.94 L529.0,111.81 L529.5,112.25 L530.0,112.42 L530.5,111.82 L531.0,111.24 L531.5,110.17 L532.0,109.72 L532.5,110.30 L533.0,109.94 L533.5,109.65 L534.0,109.17 L534.5,109.77 L535.0,111.25 L535.5,109.82 L536.0,108.48 L536.5,108.24 L537.0,108.40 L537.5,108.44 L538.0,107.38 L538.5,106.63 L539.0,106.29 L539.5,105.46 L540.0,105.41 L540.5,105.19 L541.0,104.69 L541.5,104.74 L542.0,104.62 L542.5,104.08 L543.0,103.59 L543.5,102.63 L544.0,101.99 L544.5,102.04 L545.0,101.48 L545.5,101.36 L546.0,101.50 L546.5,99.97 L547.0,99.31 L547.5,99.35 L548.0,99.63 L548.5,99.14 L549.0,97.68 L549.5,97.76 L550.0,99.28 L550.5,99.54 L551.0,98.73 L551.5,99.31 L552.0,98.37 L552.5,98.71 L553.0,100.40 L553.5,100.75 L554.0,101.19 L554.5,101.37 L555.0,101.09 L555.5,101.34 L556.0,101.78 L556.5,103.35 L557.0,103.59 L557.5,102.82 L558.0,102.48 L558.5,102.16 L559.0,103.63 L559.5,103.67 L560.0,102.52 L560.5,103.38 L561.0,103.94 L561.5,105.42 L562.0,104.56 L562.5,103.92 L563.0,106.04 L563.5,105.50 L564.0,105.05 L564.5,106.31 L565.0,108.01 L565.5,107.56 L566.0,106.03 L566.5,107.49 L567.0,109.65 L567.5,109.20 L568.0,107.30 L568.5,108.64 L569.0,110.12 L569.5,110.22 L570.0,110.59 L570.5,109.97 L571.0,109.98 L571.5,111.30 L572.0,112.61 L572.5,110.68 L573.0,109.47 L573.5,111.95 L574.0,112.47 L574.5,110.80 L575.0,111.19 L575.5,112.09 L576.0,112.19 L576.5,112.14 L577.0,112.17 L577.5,112.33 L578.0,112.86 L578.5,112.80 L579.0,112.58 L579.5,113.11 L580.0,114.19 L580.5,114.62 L581.0,113.92 L581.5,114.14 L582.0,114.57 L582.5,115.02 L583.0,115.20 L583.5,115.73 L584.0,116.33 L584.5,115.36 L585.0,114.44 L585.5,115.09 L586.0,115.74 L586.5,115.26 L587.0,114.19 L587.5,113.26 L588.0,114.43 L588.5,116.05 L589.0,116.41 L589.5,115.28 L590.0,115.51 L590.5,116.04 L591.0,115.74 L591.5,116.38 L592.0,115.76 L592.5,115.24 L593.0,114.57 L593.5,114.45 L594.0,114.68 L594.5,115.55 L595.0,116.71 L595.5,117.06 L596.0,117.30 L596.5,116.45 L597.0,116.51 L597.5,116.71 L598.0,116.92 L598.5,117.39 L599.0,116.50 L599.5,116.37 L600.0,117.03 L600.5,116.90 L601.0,117.45 L601.5,118.69 L602.0,117.99 L602.5,116.83 L603.0,115.77 L603.5,115.95 L604.0,117.06 L604.5,115.91 L605.0,116.37 L605.5,118.03 L606.0,117.46 L606.5,116.91 L607.0,116.80 L607.5,117.48 L608.0,117.16 L608.5,116.51 L609.0,118.53 L609.5,118.70 L610.0,117.77 L610.5,117.58 L611.0,116.53 L611.5,116.51 L612.0,117.35 L612.5,116.66 L613.0,116.52 L613.5,117.75 L614.0,118.07 L614.5,116.31 L615.0,115.00 L615.5,114.89 L616.0,116.01 L616.5,117.24 L617.0,116.96 L617.5,116.03 L618.0,114.90 L618.5,115.43 L619.0,116.15 L619.5,115.57 L620.0,115.57 L620.5,116.42 L621.0,116.45 L621.5,115.43 L622.0,114.03 L622.5,114.46 L623.0,115.78 L623.5,115.76 L624.0,115.38 L624.5,115.11 L625.0,115.76 L625.5,116.12 L626.0,115.75 L626.5,115.19 L627.0,114.73 L627.5,115.38 L628.0,115.14 L628.5,114.29 L629.0,114.67 L629.5,116.10 L630.0,116.40 L630.5,116.54 L631.0,116.34 L631.5,115.28 L632.0,114.53 L632.5,114.37 L633.0,116.03 L633.5,116.55 L634.0,116.13 L634.5,116.35 L635.0,115.91 L635.5,115.37 L636.0,115.45 L636.5,115.97 L637.0,116.20 L637.5,116.13 L638.0,116.00 L638.5,115.32 L639.0,115.16 L639.5,115.14 L640.0,115.99 L640.5,115.41 L641.0,114.81 L641.5,117.58 L642.0,117.64 L642.5,115.70 L643.0,116.04 L643.5,117.61 L644.0,117.68 L644.5,117.44 L645.0,117.75 L645.5,117.33 L646.0,119.28 L646.5,119.70 L647.0,117.69 L647.5,117.51 L648.0,118.21 L648.5,118.89 L649.0,119.26 L649.5,119.25 L650.0,118.08 L650.5,118.44 L651.0,119.22 L651.5,118.85 L652.0,118.26 L652.5,118.19 L653.0,118.73 L653.5,119.14 L654.0,118.80 L654.5,118.95 L655.0,119.97 L655.5,119.37 L656.0,119.02 L656.5,119.27 L657.0,120.26 L657.5,119.37 L658.0,118.72 L658.5,119.32 L659.0,119.35 L659.5,120.92 L660.0,120.88 L660.5,120.55 L661.0,120.51 L661.5,121.65 L662.0,122.77 L662.5,122.37 L663.0,121.13 L663.5,119.90 L664.0,121.39 L664.5,122.00 L665.0,121.29 L665.5,121.68 L666.0,121.17 L666.5,121.50 L667.0,122.32 L667.5,122.21 L668.0,121.88 L668.5,121.97 L669.0,122.01 L669.5,122.34 L670.0,123.48 L670.5,123.52 L671.0,123.22 L671.5,123.12 L672.0,121.28" fill="none" stroke="#35ad6b" stroke-width="3.2" stroke-linejoin="round" stroke-linecap="round"/><path d="M369.5,48.02 L370.0,48.08 L370.5,48.67 L371.0,49.45 L371.5,48.82 L372.0,49.21 L372.5,49.41 L373.0,48.72 L373.5,49.70 L374.0,49.63 L374.5,50.43 L375.0,50.11 L375.5,50.11 L376.0,50.44 L376.5,50.70 L377.0,50.64 L377.5,50.95 L378.0,50.71 L378.5,51.20 L379.0,51.65 L379.5,52.15 L380.0,51.92 L380.5,51.93 L381.0,52.33 L381.5,52.41 L382.0,52.73 L382.5,52.67 L383.0,52.42 L383.5,52.64 L384.0,52.70 L384.5,52.82 L385.0,52.86 L385.5,52.63 L386.0,52.30 L386.5,52.79 L387.0,52.45 L387.5,53.14 L388.0,53.17 L388.5,52.73 L389.0,53.48 L389.5,53.58 L390.0,53.40 L390.5,53.90 L391.0,53.99 L391.5,53.11 L392.0,53.79 L392.5,53.63 L393.0,53.62 L393.5,53.78 L394.0,53.28 L394.5,53.31 L395.0,53.23 L395.5,53.24 L396.0,53.42 L396.5,52.99 L397.0,53.09 L397.5,53.54 L398.0,53.31 L398.5,53.41 L399.0,52.69 L399.5,52.97 L400.0,52.98 L400.5,53.08 L401.0,52.25 L401.5,51.44 L402.0,49.56 L402.5,47.94 L403.0,46.54 L403.5,45.70 L404.0,44.29 L404.5,43.77 L405.0,42.81 L405.5,42.36 L406.0,42.37 L406.5,42.74 L407.0,43.23 L407.5,43.65 L408.0,43.96 L408.5,44.60 L409.0,44.83 L409.5,45.70 L410.0,45.96 L410.5,46.04 L411.0,47.72 L411.5,47.95 L412.0,48.04 L412.5,48.61 L413.0,48.53 L413.5,49.52 L414.0,49.13 L414.5,48.60 L415.0,49.29 L415.5,49.05 L416.0,49.76 L416.5,48.89 L417.0,48.53 L417.5,49.19 L418.0,49.04 L418.5,48.99 L419.0,48.44 L419.5,49.15 L420.0,49.47 L420.5,48.36 L421.0,49.22 L421.5,48.65 L422.0,49.46 L422.5,48.83 L423.0,48.60 L423.5,48.93 L424.0,48.72 L424.5,48.35 L425.0,48.71 L425.5,48.32 L426.0,47.92 L426.5,49.03 L427.0,48.30 L427.5,48.20 L428.0,48.45 L428.5,47.87 L429.0,47.90 L429.5,48.14 L430.0,48.11 L430.5,48.26 L431.0,48.56 L431.5,48.06 L432.0,48.33 L432.5,48.35 L433.0,47.83 L433.5,48.21 L434.0,47.85 L434.5,48.44 L435.0,48.25 L435.5,48.11 L436.0,47.70 L436.5,48.13 L437.0,47.88 L437.5,48.36 L438.0,48.20 L438.5,48.12 L439.0,48.79 L439.5,48.91 L440.0,48.73 L440.5,49.48 L441.0,49.30 L441.5,49.56 L442.0,49.97 L442.5,50.00 L443.0,50.39 L443.5,50.77 L444.0,51.57 L444.5,51.86 L445.0,51.63 L445.5,52.47 L446.0,52.26 L446.5,52.73 L447.0,53.26 L447.5,53.51 L448.0,54.59 L448.5,54.39 L449.0,54.42 L449.5,55.59 L450.0,55.48 L450.5,55.87 L451.0,55.38 L451.5,56.80 L452.0,56.89 L452.5,56.94 L453.0,56.96 L453.5,57.11 L454.0,56.48 L454.5,56.64 L455.0,55.88 L455.5,55.23 L456.0,54.50 L456.5,52.93 L457.0,51.01 L457.5,50.21 L458.0,49.05 L458.5,48.31 L459.0,48.85 L459.5,49.77 L460.0,51.12 L460.5,53.03 L461.0,56.22 L461.5,57.87 L462.0,60.48 L462.5,61.84 L463.0,62.90 L463.5,63.25 L464.0,64.32 L464.5,65.17 L465.0,66.01 L465.5,66.20 L466.0,66.65 L466.5,67.89 L467.0,68.48 L467.5,68.78 L468.0,68.99 L468.5,69.76 L469.0,70.13 L469.5,70.79 L470.0,70.61 L470.5,71.45 L471.0,71.80 L471.5,71.95 L472.0,72.78 L472.5,73.15 L473.0,73.44 L473.5,74.09 L474.0,73.96 L474.5,74.75 L475.0,75.27 L475.5,75.59 L476.0,76.18 L476.5,75.83 L477.0,76.05 L477.5,76.87 L478.0,77.22 L478.5,77.98 L479.0,77.80 L479.5,77.62 L480.0,78.37 L480.5,78.12 L481.0,78.17 L481.5,79.61 L482.0,79.16 L482.5,79.50 L483.0,79.67 L483.5,80.26 L484.0,80.02 L484.5,80.52 L485.0,80.07 L485.5,80.17 L486.0,81.23 L486.5,81.46 L487.0,81.39 L487.5,81.52 L488.0,81.71 L488.5,81.68 L489.0,82.55 L489.5,82.50 L490.0,82.67 L490.5,82.84 L491.0,83.24 L491.5,83.29 L492.0,83.56 L492.5,83.20 L493.0,83.89 L493.5,84.59 L494.0,83.98 L494.5,84.29 L495.0,84.78 L495.5,84.98 L496.0,85.07 L496.5,84.58 L497.0,85.38 L497.5,85.05 L498.0,85.32 L498.5,85.89 L499.0,85.80 L499.5,86.28 L500.0,87.12 L500.5,86.56 L501.0,86.68 L501.5,86.34 L502.0,86.55 L502.5,86.56 L503.0,86.85 L503.5,86.81 L504.0,87.07 L504.5,87.32 L505.0,87.21 L505.5,87.20 L506.0,87.33 L506.5,87.98 L507.0,87.97 L507.5,88.36 L508.0,88.46 L508.5,88.15 L509.0,88.53 L509.5,87.99 L510.0,89.18 L510.5,88.93 L511.0,88.59 L511.5,88.39 L512.0,88.93 L512.5,88.35 L513.0,88.75 L513.5,89.28 L514.0,89.15 L514.5,89.05 L515.0,89.54 L515.5,89.01 L516.0,89.46 L516.5,89.27 L517.0,89.20 L517.5,89.62 L518.0,89.20 L518.5,90.06 L519.0,89.32 L519.5,90.07 L520.0,89.13 L520.5,89.60 L521.0,89.02 L521.5,88.93 L522.0,89.32 L522.5,89.41 L523.0,88.76 L523.5,89.41 L524.0,88.74 L524.5,88.93 L525.0,88.91 L525.5,88.86 L526.0,87.97 L526.5,88.77 L527.0,88.20 L527.5,87.61 L528.0,87.12 L528.5,86.58 L529.0,86.33 L529.5,86.53 L530.0,85.90 L530.5,85.27 L531.0,85.01 L531.5,85.15 L532.0,84.07 L532.5,83.45 L533.0,83.45 L533.5,82.60 L534.0,81.88 L534.5,81.08 L535.0,80.20 L535.5,79.73 L536.0,79.36 L536.5,78.85 L537.0,78.40 L537.5,77.82 L538.0,77.06 L538.5,76.38 L539.0,75.34 L539.5,74.31 L540.0,74.13 L540.5,73.34 L541.0,72.79 L541.5,72.30 L542.0,71.44 L542.5,70.94 L543.0,70.76 L543.5,70.40 L544.0,69.81 L544.5,69.81 L545.0,69.26 L545.5,68.69 L546.0,68.70 L546.5,68.98 L547.0,68.01 L547.5,68.41 L548.0,68.41 L548.5,68.46 L549.0,67.85 L549.5,68.81 L550.0,68.41 L550.5,68.50 L551.0,68.74 L551.5,69.24 L552.0,69.35 L552.5,69.57 L553.0,70.30 L553.5,70.00 L554.0,70.19 L554.5,71.04 L555.0,71.36 L555.5,71.86 L556.0,71.63 L556.5,72.70 L557.0,72.96 L557.5,73.78 L558.0,73.33 L558.5,74.22 L559.0,74.58 L559.5,74.72 L560.0,75.53 L560.5,76.64 L561.0,76.72 L561.5,77.19 L562.0,78.17 L562.5,78.69 L563.0,79.12 L563.5,78.96 L564.0,79.48 L564.5,80.05 L565.0,79.76 L565.5,79.92 L566.0,80.56 L566.5,80.94 L567.0,80.30 L567.5,80.04 L568.0,80.57 L568.5,80.90 L569.0,81.38 L569.5,81.83 L570.0,81.83 L570.5,81.90 L571.0,82.39 L571.5,82.29 L572.0,82.80 L572.5,82.86 L573.0,84.07 L573.5,83.75 L574.0,83.48 L574.5,83.64 L575.0,84.01 L575.5,83.84 L576.0,84.28 L576.5,84.45 L577.0,85.10 L577.5,84.88 L578.0,84.94 L578.5,84.94 L579.0,85.16 L579.5,85.65 L580.0,85.77 L580.5,86.33 L581.0,85.96 L581.5,86.61 L582.0,86.52 L582.5,86.59 L583.0,86.13 L583.5,86.47 L584.0,87.20 L584.5,87.51 L585.0,87.27 L585.5,87.54 L586.0,87.29 L586.5,87.39 L587.0,87.38 L587.5,87.93 L588.0,87.80 L588.5,87.68 L589.0,87.71 L589.5,88.02 L590.0,88.00 L590.5,87.71 L591.0,88.51 L591.5,88.13 L592.0,88.10 L592.5,88.58 L593.0,88.49 L593.5,88.20 L594.0,88.42 L594.5,87.98 L595.0,88.14 L595.5,87.69 L596.0,88.75 L596.5,87.85 L597.0,88.64 L597.5,88.21 L598.0,88.18 L598.5,88.43 L599.0,88.57 L599.5,88.68 L600.0,89.03 L600.5,88.61 L601.0,88.76 L601.5,88.32 L602.0,88.71 L602.5,88.55 L603.0,88.36 L603.5,88.47 L604.0,88.48 L604.5,88.56 L605.0,88.62 L605.5,88.35 L606.0,88.28 L606.5,88.72 L607.0,88.00 L607.5,88.32 L608.0,88.96 L608.5,87.69 L609.0,88.27 L609.5,88.65 L610.0,87.92 L610.5,89.14 L611.0,87.55 L611.5,88.68 L612.0,88.65 L612.5,88.38 L613.0,87.97 L613.5,88.06 L614.0,87.60 L614.5,88.02 L615.0,87.35 L615.5,87.51 L616.0,87.80 L616.5,87.07 L617.0,87.17 L617.5,87.19 L618.0,86.59 L618.5,87.17 L619.0,86.75 L619.5,86.02 L620.0,86.26 L620.5,85.85 L621.0,85.69 L621.5,85.72 L622.0,85.29 L622.5,85.59 L623.0,84.88 L623.5,85.16 L624.0,84.62 L624.5,84.65 L625.0,83.99 L625.5,83.76 L626.0,83.33 L626.5,83.61 L627.0,83.49 L627.5,83.63 L628.0,83.18 L628.5,82.67 L629.0,82.32 L629.5,82.28 L630.0,81.93 L630.5,82.14 L631.0,81.77 L631.5,81.03 L632.0,80.88 L632.5,81.32 L633.0,80.85 L633.5,80.57 L634.0,80.91 L634.5,80.39 L635.0,80.42 L635.5,80.42 L636.0,80.08 L636.5,81.07 L637.0,80.65 L637.5,81.05 L638.0,81.24 L638.5,81.93 L639.0,81.96 L639.5,82.25 L640.0,82.00 L640.5,82.75 L641.0,82.66 L641.5,83.55 L642.0,83.96 L642.5,84.27 L643.0,85.31 L643.5,85.31 L644.0,85.79 L644.5,86.10 L645.0,86.44 L645.5,87.20 L646.0,87.64 L646.5,87.29 L647.0,88.31 L647.5,88.43 L648.0,88.79 L648.5,88.83 L649.0,88.50 L649.5,88.69 L650.0,89.75 L650.5,89.44 L651.0,89.09 L651.5,89.76 L652.0,89.68 L652.5,89.37 L653.0,89.37 L653.5,89.69 L654.0,90.36 L654.5,90.38 L655.0,90.43 L655.5,90.69 L656.0,90.89 L656.5,90.19 L657.0,90.82 L657.5,90.76 L658.0,90.74 L658.5,91.04 L659.0,91.27 L659.5,91.32 L660.0,91.07 L660.5,91.46 L661.0,92.30 L661.5,91.48 L662.0,91.39 L662.5,92.07 L663.0,92.26 L663.5,92.31 L664.0,91.93 L664.5,92.65 L665.0,92.21 L665.5,92.19 L666.0,92.43 L666.5,92.66 L667.0,92.99 L667.5,93.04 L668.0,92.93 L668.5,93.29 L669.0,93.11 L669.5,93.43 L670.0,92.82 L670.5,92.84 L671.0,93.60 L671.5,93.02 L672.0,93.41" fill="none" stroke="#aa6ce0" stroke-width="3.0" stroke-linejoin="round" stroke-linecap="round"/><rect x="16.5" y="0.9" width="302.1" height="222.95" fill="none" stroke="#000" stroke-width="1.9"/><rect x="368.9" y="2.1" width="303.8" height="224.1" fill="none" stroke="#000" stroke-width="2"/><line x1="41.65" y1="223.6" x2="41.65" y2="225.9" stroke="#000" stroke-width="1.4"/><line x1="66.80" y1="223.6" x2="66.80" y2="220.4" stroke="#000" stroke-width="1.5"/><line x1="91.95" y1="223.6" x2="91.95" y2="225.9" stroke="#000" stroke-width="1.4"/><line x1="117.10" y1="223.6" x2="117.10" y2="220.4" stroke="#000" stroke-width="1.5"/><line x1="142.25" y1="223.6" x2="142.25" y2="225.9" stroke="#000" stroke-width="1.4"/><line x1="167.40" y1="223.6" x2="167.40" y2="220.4" stroke="#000" stroke-width="1.5"/><line x1="192.55" y1="223.6" x2="192.55" y2="225.9" stroke="#000" stroke-width="1.4"/><line x1="217.70" y1="223.6" x2="217.70" y2="220.4" stroke="#000" stroke-width="1.5"/><line x1="242.85" y1="223.6" x2="242.85" y2="225.9" stroke="#000" stroke-width="1.4"/><line x1="268.00" y1="223.6" x2="268.00" y2="220.4" stroke="#000" stroke-width="1.5"/><line x1="293.15" y1="223.6" x2="293.15" y2="225.9" stroke="#000" stroke-width="1.4"/><line x1="390.60" y1="226.2" x2="390.60" y2="224.4" stroke="#000" stroke-width="1.4"/><line x1="412.30" y1="226.2" x2="412.30" y2="222.9" stroke="#000" stroke-width="1.5"/><line x1="434.00" y1="226.2" x2="434.00" y2="224.4" stroke="#000" stroke-width="1.4"/><line x1="455.70" y1="226.2" x2="455.70" y2="222.9" stroke="#000" stroke-width="1.5"/><line x1="477.40" y1="226.2" x2="477.40" y2="224.4" stroke="#000" stroke-width="1.4"/><line x1="499.10" y1="226.2" x2="499.10" y2="222.9" stroke="#000" stroke-width="1.5"/><line x1="520.80" y1="226.2" x2="520.80" y2="224.4" stroke="#000" stroke-width="1.4"/><line x1="542.50" y1="226.2" x2="542.50" y2="222.9" stroke="#000" stroke-width="1.5"/><line x1="564.20" y1="226.2" x2="564.20" y2="224.4" stroke="#000" stroke-width="1.4"/><line x1="585.90" y1="226.2" x2="585.90" y2="222.9" stroke="#000" stroke-width="1.5"/><line x1="607.60" y1="226.2" x2="607.60" y2="224.4" stroke="#000" stroke-width="1.4"/><line x1="629.30" y1="226.2" x2="629.30" y2="222.9" stroke="#000" stroke-width="1.5"/><line x1="651.00" y1="226.2" x2="651.00" y2="224.4" stroke="#000" stroke-width="1.4"/><text x="0" y="0" transform="translate(283.07,23.76) scale(0.9959,1.0603)" font-family='"Liberation Serif", serif' font-size="26" font-weight="bold" fill="#000" text-anchor="start" >(a)</text><text x="0" y="0" transform="translate(637.58,23.64) scale(0.9777,1.0634)" font-family='"Liberation Serif", serif' font-size="26" font-weight="bold" fill="#000" text-anchor="start" >(b)</text><text x="0" y="0" transform="translate(19.38,113.53) scale(1.0123,0.9603)" font-family='"Liberation Sans", sans-serif' font-size="13" font-weight="normal" fill="#262626" text-anchor="start" stroke="#262626" stroke-width="0.55">(100)</text><text x="0" y="0" transform="translate(81.48,19.53) scale(1.0123,0.9603)" font-family='"Liberation Sans", sans-serif' font-size="13" font-weight="normal" fill="#262626" text-anchor="start" stroke="#262626" stroke-width="0.55">(110)</text><text x="0" y="0" transform="translate(96.19,98.73) scale(1.0123,0.9603)" font-family='"Liberation Sans", sans-serif' font-size="13" font-weight="normal" fill="#262626" text-anchor="start" stroke="#262626" stroke-width="0.55">(111)</text><text x="0" y="0" transform="translate(126.78,95.08) scale(1.0123,0.9603)" font-family='"Liberation Sans", sans-serif' font-size="13" font-weight="normal" fill="#262626" text-anchor="start" stroke="#262626" stroke-width="0.55">(200)</text><text x="0" y="0" transform="translate(155.43,128.18) scale(1.0123,0.9603)" font-family='"Liberation Sans", sans-serif' font-size="13" font-weight="normal" fill="#262626" text-anchor="start" stroke="#262626" stroke-width="0.55">(210)</text><text x="0" y="0" transform="translate(182.03,99.38) scale(1.0123,0.9603)" font-family='"Liberation Sans", sans-serif' font-size="13" font-weight="normal" fill="#262626" text-anchor="start" stroke="#262626" stroke-width="0.55">(211)</text><text x="0" y="0" transform="translate(229.93,119.78) scale(1.0123,0.9603)" font-family='"Liberation Sans", sans-serif' font-size="13" font-weight="normal" fill="#262626" text-anchor="start" stroke="#262626" stroke-width="0.55">(220)</text><text x="0" y="0" transform="translate(253.08,135.88) scale(1.0123,0.9603)" font-family='"Liberation Sans", sans-serif' font-size="13" font-weight="normal" fill="#262626" text-anchor="start" stroke="#262626" stroke-width="0.55">(300)</text><text x="0" y="0" transform="translate(282.73,125.88) scale(1.0123,0.9603)" font-family='"Liberation Sans", sans-serif' font-size="13" font-weight="normal" fill="#262626" text-anchor="start" stroke="#262626" stroke-width="0.55">(310)</text><text x="0" y="0" transform="translate(276.06,111.12) scale(1.0712,1.0450)" font-family='"Liberation Serif", serif' font-size="14.5" font-weight="bold" fill="#000" text-anchor="start" >BT-W</text><text x="0" y="0" transform="translate(276.55,173.28) scale(1.0712,1.0450)" font-family='"Liberation Serif", serif' font-size="14.5" font-weight="bold" fill="#000" text-anchor="start" >BT-D</text><text x="0" y="0" transform="translate(276.63,195.03) scale(1.0712,1.0450)" font-family='"Liberation Serif", serif' font-size="14.5" font-weight="bold" fill="#000" text-anchor="start" >BT-A</text><text x="0" y="0" transform="translate(276.68,212.88) scale(1.0712,1.0450)" font-family='"Liberation Serif", serif' font-size="14.5" font-weight="bold" fill="#000" text-anchor="start" >BT-E</text><text x="0" y="0" transform="translate(627.35,110.04) scale(1.0691,1.0875)" font-family='"Liberation Serif", serif' font-size="14.5" font-weight="bold" fill="#000" text-anchor="start" >BT-W</text><text x="0" y="0" transform="translate(628.44,140.69) scale(1.0691,1.0875)" font-family='"Liberation Serif", serif' font-size="14.5" font-weight="bold" fill="#000" text-anchor="start" >BT-D</text><text x="0" y="0" transform="translate(628.02,170.69) scale(1.0691,1.0875)" font-family='"Liberation Serif", serif' font-size="14.5" font-weight="bold" fill="#000" text-anchor="start" >BT-A</text><text x="0" y="0" transform="translate(628.26,193.99) scale(1.0691,1.0875)" font-family='"Liberation Serif", serif' font-size="14.5" font-weight="bold" fill="#000" text-anchor="start" >BT-E</text><text x="0" y="0" transform="translate(8.32,239.11) scale(1.0426,1.0014)" font-family='"Liberation Serif", serif' font-size="14" font-weight="bold" fill="#000" text-anchor="start" >20</text><text x="0" y="0" transform="translate(58.82,239.11) scale(1.0426,1.0014)" font-family='"Liberation Serif", serif' font-size="14" font-weight="bold" fill="#000" text-anchor="start" >30</text><text x="0" y="0" transform="translate(109.37,239.11) scale(1.0426,1.0014)" font-family='"Liberation Serif", serif' font-size="14" font-weight="bold" fill="#000" text-anchor="start" >40</text><text x="0" y="0" transform="translate(159.36,239.11) scale(1.0426,1.0014)" font-family='"Liberation Serif", serif' font-size="14" font-weight="bold" fill="#000" text-anchor="start" >50</text><text x="0" y="0" transform="translate(209.97,239.11) scale(1.0426,1.0014)" font-family='"Liberation Serif", serif' font-size="14" font-weight="bold" fill="#000" text-anchor="start" >60</text><text x="0" y="0" transform="translate(260.15,239.11) scale(1.0426,1.0014)" font-family='"Liberation Serif", serif' font-size="14" font-weight="bold" fill="#000" text-anchor="start" >70</text><text x="0" y="0" transform="translate(310.97,238.96) scale(1.0426,1.0014)" font-family='"Liberation Serif", serif' font-size="14" font-weight="bold" fill="#000" text-anchor="start" >80</text><text x="0" y="0" transform="translate(356.51,243.50) scale(1.0413,1.1300)" font-family='"Liberation Serif", serif' font-size="15.4" font-weight="bold" fill="#000" text-anchor="start" >100</text><text x="0" y="0" transform="translate(399.82,243.50) scale(1.0413,1.1300)" font-family='"Liberation Serif", serif' font-size="15.4" font-weight="bold" fill="#000" text-anchor="start" >200</text><text x="0" y="0" transform="translate(443.12,243.50) scale(1.0413,1.1300)" font-family='"Liberation Serif", serif' font-size="15.4" font-weight="bold" fill="#000" text-anchor="start" >300</text><text x="0" y="0" transform="translate(486.78,243.50) scale(1.0413,1.1300)" font-family='"Liberation Serif", serif' font-size="15.4" font-weight="bold" fill="#000" text-anchor="start" >400</text><text x="0" y="0" transform="translate(529.81,243.50) scale(1.0413,1.1300)" font-family='"Liberation Serif", serif' font-size="15.4" font-weight="bold" fill="#000" text-anchor="start" >500</text><text x="0" y="0" transform="translate(573.26,243.50) scale(1.0413,1.1300)" font-family='"Liberation Serif", serif' font-size="15.4" font-weight="bold" fill="#000" text-anchor="start" >600</text><text x="0" y="0" transform="translate(617.13,243.50) scale(1.0413,1.1300)" font-family='"Liberation Serif", serif' font-size="15.4" font-weight="bold" fill="#000" text-anchor="start" >700</text><text x="0" y="0" transform="translate(660.40,243.50) scale(1.0413,1.1300)" font-family='"Liberation Serif", serif' font-size="15.4" font-weight="bold" fill="#000" text-anchor="start" >800</text><text x="0" y="0" transform="translate(131.64,254.80) scale(0.9991,0.9200)" font-family='"Liberation Serif", serif' font-size="15" font-weight="bold" fill="#000" text-anchor="start" >2θ (degree)</text><text x="0" y="0" transform="translate(455.67,261.60) scale(1.0133,1.0364)" font-family='"Liberation Serif", serif' font-size="16" font-weight="bold" fill="#000" text-anchor="start" >Raman shift (cm<tspan dy="-5.5" font-size="11">-1</tspan><tspan dy="5.5">)</tspan></text><text x="0" y="0" transform="translate(11.04,159.10) scale(1.0025,1.0188) rotate(-90)" font-family='"Liberation Serif", serif' font-size="14.7" font-weight="bold" fill="#000" text-anchor="start" >Intensity (a.u.)</text><text x="0" y="0" transform="translate(362.09,165.47) scale(0.9422,1.0153) rotate(-90)" font-family='"Liberation Serif", serif' font-size="16.2" font-weight="bold" fill="#000" text-anchor="start" >Intensity (a.u.)</text><text x="0" y="0" transform="translate(553.90,44.45) scale(1.0290,0.9833)" font-family='"Liberation Serif", serif' font-size="12.8" font-weight="bold" fill="#000" text-anchor="start" >Commercial-BaTiO<tspan dy="3.2" font-size="8.2">3</tspan></text><text x="0" y="0" transform="translate(388.59,32.82) scale(1.0331,0.9826)" font-family='"Liberation Sans", sans-serif' font-size="14" font-weight="normal" fill="#1c1c1c" text-anchor="start" stroke="#1c1c1c" stroke-width="0.3">A<tspan dy="4.1" font-size="11.76">1</tspan><tspan dy="-4.1">(LO)</tspan></text><text x="0" y="0" transform="translate(448.88,38.72) scale(1.0464,0.9826)" font-family='"Liberation Sans", sans-serif' font-size="14" font-weight="normal" fill="#1c1c1c" text-anchor="start" stroke="#1c1c1c" stroke-width="0.3">B<tspan dy="4.1" font-size="11.76">1</tspan><tspan dy="-4.1">, E(TO+LO)</tspan></text><text x="0" y="0" transform="translate(518.89,60.52) scale(1.0030,0.9826)" font-family='"Liberation Sans", sans-serif' font-size="14" font-weight="normal" fill="#1c1c1c" text-anchor="start" stroke="#1c1c1c" stroke-width="0.3">A<tspan dy="4.1" font-size="11.76">1</tspan><tspan dy="-4.1">, E(TO)</tspan></text><text x="0" y="0" transform="translate(610.19,73.52) scale(0.9857,0.9826)" font-family='"Liberation Sans", sans-serif' font-size="14" font-weight="normal" fill="#1c1c1c" text-anchor="start" stroke="#1c1c1c" stroke-width="0.3">A<tspan dy="4.1" font-size="11.76">1</tspan><tspan dy="-4.1">, E(LO)</tspan></text></svg></body></html>
